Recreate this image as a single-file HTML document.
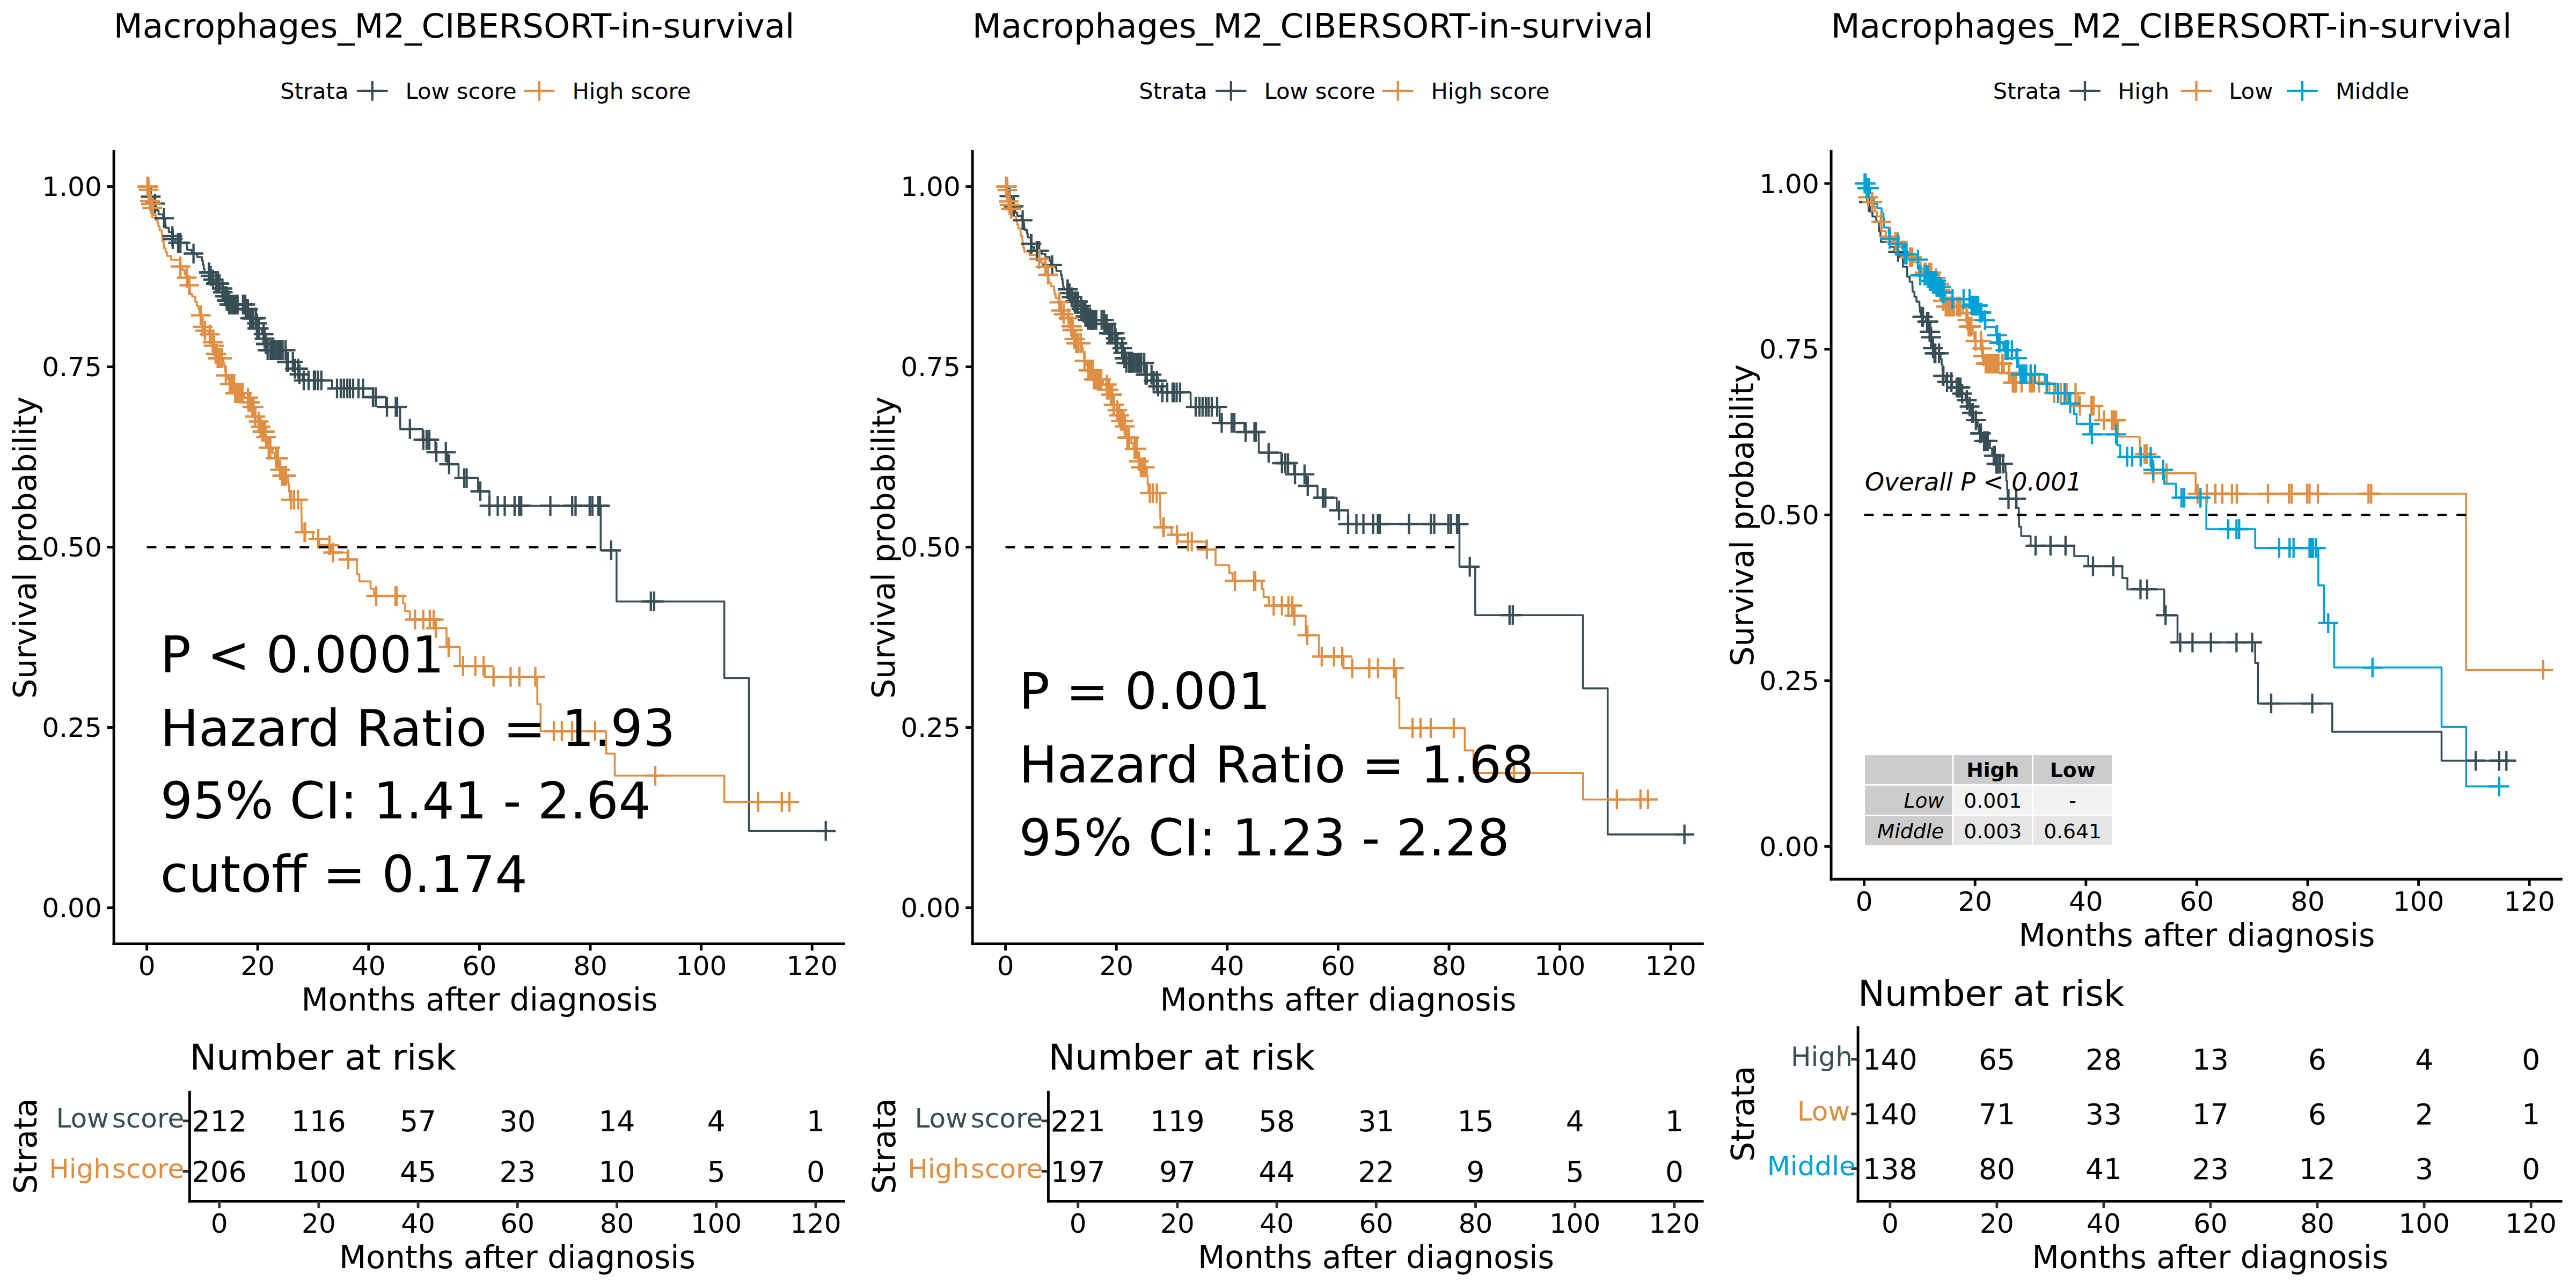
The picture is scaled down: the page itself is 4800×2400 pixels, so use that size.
<!DOCTYPE html>
<html lang="en"><head><meta charset="utf-8"><title>Macrophages_M2_CIBERSORT-in-survival</title>
<style>html,body{margin:0;padding:0;background:#fff;width:4800px;height:2400px;overflow:hidden;}svg{display:block;}text{font-family:'DejaVu Sans', 'Liberation Sans', sans-serif;}</style>
</head><body>
<svg width="4800" height="2400" viewBox="0 0 4800 2400">
<defs><g id="cm"><path d="M-18.4 0H18.4M0 -18.4V18.4" fill="none" stroke-width="4.3"/></g></defs>
<rect width="4800" height="2400" fill="#fff"/>
<text x="211.8" y="70.2" font-size="62.5" text-anchor="start" fill="#000">Macrophages_M2_CIBERSORT-in-survival</text>
<text x="522.2" y="183.9" font-size="41.67" text-anchor="start" fill="#000">Strata</text>
<line x1="665.0" y1="169.3" x2="722.6" y2="169.3" stroke="#374E55" stroke-width="3.56"/>
<use href="#cm" x="693.8" y="169.3" stroke="#374E55"/>
<text x="755.5" y="183.9" font-size="41.67" text-anchor="start" fill="#000">Low score</text>
<line x1="976.0" y1="169.3" x2="1033.6" y2="169.3" stroke="#DF8F44" stroke-width="3.56"/>
<use href="#cm" x="1004.8" y="169.3" stroke="#DF8F44"/>
<text x="1066.5" y="183.9" font-size="41.67" text-anchor="start" fill="#000">High score</text>
<path d="M273.6 347.6 L276.0 347.6 L276.0 353.4 L278.0 353.4 L278.0 360.0 L280.0 360.0 L280.0 366.5 L284.0 366.5 L284.0 373.0 L287.0 373.0 L287.0 379.4 L290.0 379.4 L290.0 386.0 L292.0 386.0 L292.0 392.0 L295.5 392.0 L295.5 399.5 L304.0 399.5 L304.0 406.5 L307.5 406.5 L307.5 412.5 L308.2 412.5 L308.2 419.0 L308.8 419.0 L308.8 424.5 L314.5 424.5 L314.5 432.5 L320.5 432.5 L320.5 440.0 L321.5 440.0 L321.5 445.5 L327.0 445.5 L327.0 452.5 L348.0 452.5 L348.0 459.0 L348.8 459.0 L348.8 465.5 L357.0 465.5 L357.0 472.5 L367.5 472.5 L367.5 479.0 L376.5 479.0 L376.5 486.0 L378.0 486.0 L378.0 493.0 L379.5 493.0 L379.5 500.0 L381.0 500.0 L381.0 507.5 L390.0 507.5 L390.0 514.0 L395.5 514.0 L395.5 521.0 L401.0 521.0 L401.0 528.5 L410.0 528.5 L410.0 537.5 L415.0 537.5 L415.0 544.5 L418.5 544.5 L418.5 552.0 L422.5 552.0 L422.5 560.0 L427.0 560.0 L427.0 567.5 L458.0 567.5 L458.0 576.0 L465.0 576.0 L465.0 584.5 L466.0 584.5 L466.0 593.0 L478.0 593.0 L478.0 602.5 L479.0 602.5 L479.0 612.0 L488.0 612.0 L488.0 622.5 L493.0 622.5 L493.0 631.0 L494.5 631.0 L494.5 641.0 L497.0 641.0 L497.0 652.5 L533.0 652.5 L533.0 663.5 L534.0 663.5 L534.0 674.5 L548.0 674.5 L548.0 687.0 L557.0 687.0 L557.0 697.5 L564.0 697.5 L564.0 708.8 L618.8 708.8 L618.8 723.8 L677.0 723.8 L677.0 740.0 L718.8 740.0 L718.8 758.2 L745.6 758.2 L745.6 778.5 L745.7 778.5 L745.7 799.5 L787.5 799.5 L787.5 819.5 L811.2 819.5 L811.2 842.5 L833.8 842.5 L833.8 865.0 L854.5 865.0 L854.5 890.8 L890.8 890.8 L890.8 915.5 L912.0 915.5 L912.0 942.5 L1119.3 942.5 L1119.3 1025.5 L1148.8 1025.5 L1148.8 1120.7 L1349.6 1120.7 L1349.6 1263.5 L1395.6 1263.5 L1395.6 1548.3 L1538.7 1548.3" fill="none" stroke="#374E55" stroke-width="3.56" stroke-linejoin="round"/>
<path d="M273.6 347.6 L276.5 347.6 L276.5 353.6 L278.0 353.6 L278.0 360.0 L278.5 360.0 L278.5 367.0 L279.0 367.0 L279.0 374.3 L280.5 374.3 L280.5 380.0 L282.5 380.0 L282.5 387.5 L284.0 387.5 L284.0 394.0 L284.5 394.0 L284.5 400.5 L290.5 400.5 L290.5 410.0 L293.5 410.0 L293.5 415.0 L295.0 415.0 L295.0 421.5 L297.5 421.5 L297.5 429.0 L301.5 429.0 L301.5 435.5 L302.0 435.5 L302.0 442.5 L303.0 442.5 L303.0 450.0 L305.0 450.0 L305.0 456.0 L305.5 456.0 L305.5 462.5 L308.5 462.5 L308.5 470.0 L311.0 470.0 L311.0 477.0 L318.5 477.0 L318.5 484.0 L335.0 484.0 L335.0 496.5 L340.0 496.5 L340.0 503.0 L344.0 503.0 L344.0 510.0 L346.0 510.0 L346.0 517.5 L350.5 517.5 L350.5 524.5 L351.5 524.5 L351.5 531.5 L353.6 531.5 L353.6 540.0 L354.2 540.0 L354.2 547.5 L358.0 547.5 L358.0 552.5 L364.0 552.5 L364.0 562.5 L367.0 562.5 L367.0 570.0 L370.0 570.0 L370.0 576.0 L371.5 576.0 L371.5 582.0 L372.5 582.0 L372.5 587.5 L375.0 587.5 L375.0 594.5 L376.0 594.5 L376.0 601.5 L377.0 601.5 L377.0 608.8 L380.5 608.8 L380.5 616.2 L389.0 616.2 L389.0 623.2 L394.0 623.2 L394.0 630.0 L395.5 630.0 L395.5 637.5 L397.5 637.5 L397.5 644.2 L399.5 644.2 L399.5 652.0 L401.0 652.0 L401.0 659.5 L404.5 659.5 L404.5 667.5 L416.0 667.5 L416.0 675.5 L418.0 675.5 L418.0 683.5 L419.5 683.5 L419.5 691.5 L420.5 691.5 L420.5 699.5 L425.0 699.5 L425.0 707.5 L427.0 707.5 L427.0 715.8 L437.0 715.8 L437.0 724.0 L438.0 724.0 L438.0 732.5 L455.0 732.5 L455.0 741.0 L462.5 741.0 L462.5 749.5 L469.0 749.5 L469.0 758.2 L473.0 758.2 L473.0 767.0 L475.0 767.0 L475.0 776.2 L481.0 776.2 L481.0 785.5 L485.0 785.5 L485.0 795.0 L487.0 795.0 L487.0 804.5 L494.0 804.5 L494.0 814.2 L498.0 814.2 L498.0 824.0 L500.0 824.0 L500.0 834.2 L508.0 834.2 L508.0 844.0 L512.0 844.0 L512.0 854.2 L518.0 854.2 L518.0 865.0 L520.0 865.0 L520.0 875.5 L524.0 875.5 L524.0 886.5 L537.0 886.5 L537.0 901.0 L538.5 901.0 L538.5 916.0 L540.0 916.0 L540.0 931.2 L561.5 931.2 L561.5 946.0 L561.7 946.0 L561.7 961.0 L562.0 961.0 L562.0 976.0 L562.5 976.0 L562.5 991.8 L583.0 991.8 L583.0 1004.2 L595.0 1004.2 L595.0 1016.2 L617.0 1016.2 L617.0 1029.5 L647.5 1029.5 L647.5 1042.5 L665.0 1042.5 L665.0 1070.0 L669.6 1070.0 L669.6 1083.4 L690.5 1083.4 L690.5 1097.0 L697.0 1097.0 L697.0 1110.6 L751.0 1110.6 L751.0 1124.2 L755.0 1124.2 L755.0 1139.0 L763.8 1139.0 L763.8 1154.5 L810.0 1154.5 L810.0 1170.3 L832.0 1170.3 L832.0 1205.7 L856.8 1205.7 L856.8 1241.1 L903.5 1241.1 L903.5 1261.2 L1001.2 1261.2 L1001.2 1312.0 L1007.3 1312.0 L1007.3 1362.5 L1129.5 1362.5 L1129.5 1404.2 L1145.5 1404.2 L1145.5 1445.3 L1349.6 1445.3 L1349.6 1494.4 L1470.8 1494.4" fill="none" stroke="#DF8F44" stroke-width="3.56" stroke-linejoin="round"/>
<g stroke="#374E55">
<use href="#cm" x="280.9" y="366.5"/>
<use href="#cm" x="288.8" y="379.4"/>
<use href="#cm" x="305.6" y="406.5"/>
<use href="#cm" x="321.2" y="440.0"/>
<use href="#cm" x="321.9" y="445.5"/>
<use href="#cm" x="331.9" y="452.5"/>
<use href="#cm" x="336.2" y="452.5"/>
<use href="#cm" x="360.6" y="472.5"/>
<use href="#cm" x="389.3" y="507.5"/>
<use href="#cm" x="389.4" y="507.5"/>
<use href="#cm" x="392.6" y="514.0"/>
<use href="#cm" x="396.9" y="521.0"/>
<use href="#cm" x="402.3" y="528.5"/>
<use href="#cm" x="402.8" y="528.5"/>
<use href="#cm" x="404.3" y="528.5"/>
<use href="#cm" x="404.4" y="528.5"/>
<use href="#cm" x="406.2" y="528.5"/>
<use href="#cm" x="407.1" y="528.5"/>
<use href="#cm" x="408.7" y="528.5"/>
<use href="#cm" x="414.5" y="537.5"/>
<use href="#cm" x="415.1" y="544.5"/>
<use href="#cm" x="419.3" y="552.0"/>
<use href="#cm" x="422.3" y="552.0"/>
<use href="#cm" x="422.6" y="560.0"/>
<use href="#cm" x="422.9" y="560.0"/>
<use href="#cm" x="423.3" y="560.0"/>
<use href="#cm" x="425.3" y="560.0"/>
<use href="#cm" x="426.0" y="560.0"/>
<use href="#cm" x="427.1" y="567.5"/>
<use href="#cm" x="431.3" y="567.5"/>
<use href="#cm" x="431.7" y="567.5"/>
<use href="#cm" x="433.1" y="567.5"/>
<use href="#cm" x="434.9" y="567.5"/>
<use href="#cm" x="435.7" y="567.5"/>
<use href="#cm" x="436.6" y="567.5"/>
<use href="#cm" x="439.7" y="567.5"/>
<use href="#cm" x="442.3" y="567.5"/>
<use href="#cm" x="442.6" y="567.5"/>
<use href="#cm" x="452.7" y="567.5"/>
<use href="#cm" x="457.0" y="567.5"/>
<use href="#cm" x="458.0" y="576.0"/>
<use href="#cm" x="458.5" y="576.0"/>
<use href="#cm" x="461.4" y="576.0"/>
<use href="#cm" x="461.9" y="576.0"/>
<use href="#cm" x="466.2" y="593.0"/>
<use href="#cm" x="469.9" y="593.0"/>
<use href="#cm" x="469.9" y="593.0"/>
<use href="#cm" x="470.0" y="593.0"/>
<use href="#cm" x="472.1" y="593.0"/>
<use href="#cm" x="476.9" y="593.0"/>
<use href="#cm" x="478.7" y="602.5"/>
<use href="#cm" x="479.5" y="612.0"/>
<use href="#cm" x="481.6" y="612.0"/>
<use href="#cm" x="482.0" y="612.0"/>
<use href="#cm" x="491.2" y="622.5"/>
<use href="#cm" x="493.0" y="631.0"/>
<use href="#cm" x="495.4" y="641.0"/>
<use href="#cm" x="495.4" y="641.0"/>
<use href="#cm" x="498.7" y="652.5"/>
<use href="#cm" x="503.8" y="652.5"/>
<use href="#cm" x="504.2" y="652.5"/>
<use href="#cm" x="504.5" y="652.5"/>
<use href="#cm" x="504.9" y="652.5"/>
<use href="#cm" x="507.2" y="652.5"/>
<use href="#cm" x="508.2" y="652.5"/>
<use href="#cm" x="508.7" y="652.5"/>
<use href="#cm" x="510.3" y="652.5"/>
<use href="#cm" x="511.9" y="652.5"/>
<use href="#cm" x="513.7" y="652.5"/>
<use href="#cm" x="517.7" y="652.5"/>
<use href="#cm" x="521.0" y="652.5"/>
<use href="#cm" x="521.5" y="652.5"/>
<use href="#cm" x="524.8" y="652.5"/>
<use href="#cm" x="526.1" y="652.5"/>
<use href="#cm" x="526.5" y="652.5"/>
<use href="#cm" x="532.1" y="652.5"/>
<use href="#cm" x="534.6" y="674.5"/>
<use href="#cm" x="536.2" y="674.5"/>
<use href="#cm" x="536.7" y="674.5"/>
<use href="#cm" x="545.7" y="674.5"/>
<use href="#cm" x="549.6" y="687.0"/>
<use href="#cm" x="555.6" y="687.0"/>
<use href="#cm" x="557.9" y="697.5"/>
<use href="#cm" x="566.0" y="708.8"/>
<use href="#cm" x="575.0" y="708.8"/>
<use href="#cm" x="585.0" y="708.8"/>
<use href="#cm" x="587.0" y="708.8"/>
<use href="#cm" x="592.5" y="708.8"/>
<use href="#cm" x="598.8" y="708.8"/>
<use href="#cm" x="628.0" y="723.8"/>
<use href="#cm" x="635.0" y="723.8"/>
<use href="#cm" x="640.8" y="723.8"/>
<use href="#cm" x="647.0" y="723.8"/>
<use href="#cm" x="651.9" y="723.8"/>
<use href="#cm" x="658.0" y="723.8"/>
<use href="#cm" x="668.0" y="723.8"/>
<use href="#cm" x="676.5" y="723.8"/>
<use href="#cm" x="695.0" y="740.0"/>
<use href="#cm" x="700.0" y="740.0"/>
<use href="#cm" x="721.0" y="758.2"/>
<use href="#cm" x="737.5" y="758.2"/>
<use href="#cm" x="740.0" y="758.2"/>
<use href="#cm" x="763.8" y="799.5"/>
<use href="#cm" x="788.8" y="819.5"/>
<use href="#cm" x="795.0" y="819.5"/>
<use href="#cm" x="800.0" y="819.5"/>
<use href="#cm" x="813.0" y="842.5"/>
<use href="#cm" x="830.8" y="842.5"/>
<use href="#cm" x="836.8" y="865.0"/>
<use href="#cm" x="865.0" y="890.8"/>
<use href="#cm" x="869.5" y="890.8"/>
<use href="#cm" x="895.0" y="915.5"/>
<use href="#cm" x="912.0" y="942.5"/>
<use href="#cm" x="927.5" y="942.5"/>
<use href="#cm" x="940.5" y="942.5"/>
<use href="#cm" x="958.8" y="942.5"/>
<use href="#cm" x="967.5" y="942.5"/>
<use href="#cm" x="971.2" y="942.5"/>
<use href="#cm" x="1025.5" y="942.5"/>
<use href="#cm" x="1066.2" y="942.5"/>
<use href="#cm" x="1072.5" y="942.5"/>
<use href="#cm" x="1098.8" y="942.5"/>
<use href="#cm" x="1103.8" y="942.5"/>
<use href="#cm" x="1115.0" y="942.5"/>
<use href="#cm" x="1118.0" y="942.5"/>
<use href="#cm" x="1138.7" y="1025.5"/>
<use href="#cm" x="1212.8" y="1120.7"/>
<use href="#cm" x="1218.9" y="1120.7"/>
<use href="#cm" x="1538.7" y="1548.3"/>
</g>
<g stroke="#DF8F44">
<use href="#cm" x="274.6" y="347.6"/>
<use href="#cm" x="275.5" y="347.6"/>
<use href="#cm" x="276.3" y="347.6"/>
<use href="#cm" x="277.0" y="353.6"/>
<use href="#cm" x="279.5" y="374.3"/>
<use href="#cm" x="281.2" y="380.0"/>
<use href="#cm" x="283.8" y="387.5"/>
<use href="#cm" x="336.2" y="496.5"/>
<use href="#cm" x="348.0" y="517.5"/>
<use href="#cm" x="352.8" y="531.5"/>
<use href="#cm" x="374.0" y="587.5"/>
<use href="#cm" x="377.5" y="608.8"/>
<use href="#cm" x="382.0" y="616.2"/>
<use href="#cm" x="391.0" y="623.2"/>
<use href="#cm" x="396.2" y="637.5"/>
<use href="#cm" x="397.0" y="637.5"/>
<use href="#cm" x="398.0" y="644.2"/>
<use href="#cm" x="398.9" y="644.2"/>
<use href="#cm" x="401.8" y="659.5"/>
<use href="#cm" x="403.5" y="659.5"/>
<use href="#cm" x="405.5" y="667.5"/>
<use href="#cm" x="406.2" y="667.5"/>
<use href="#cm" x="409.1" y="667.5"/>
<use href="#cm" x="409.3" y="667.5"/>
<use href="#cm" x="413.8" y="667.5"/>
<use href="#cm" x="420.8" y="699.5"/>
<use href="#cm" x="428.0" y="715.8"/>
<use href="#cm" x="430.2" y="715.8"/>
<use href="#cm" x="433.9" y="715.8"/>
<use href="#cm" x="436.2" y="715.8"/>
<use href="#cm" x="438.2" y="732.5"/>
<use href="#cm" x="438.8" y="732.5"/>
<use href="#cm" x="442.2" y="732.5"/>
<use href="#cm" x="443.4" y="732.5"/>
<use href="#cm" x="445.2" y="732.5"/>
<use href="#cm" x="446.0" y="732.5"/>
<use href="#cm" x="449.5" y="732.5"/>
<use href="#cm" x="451.8" y="732.5"/>
<use href="#cm" x="462.2" y="741.0"/>
<use href="#cm" x="462.8" y="749.5"/>
<use href="#cm" x="463.8" y="749.5"/>
<use href="#cm" x="466.0" y="749.5"/>
<use href="#cm" x="470.0" y="758.2"/>
<use href="#cm" x="472.5" y="758.2"/>
<use href="#cm" x="475.0" y="776.2"/>
<use href="#cm" x="475.8" y="776.2"/>
<use href="#cm" x="482.0" y="785.5"/>
<use href="#cm" x="485.4" y="795.0"/>
<use href="#cm" x="488.8" y="804.5"/>
<use href="#cm" x="490.3" y="804.5"/>
<use href="#cm" x="491.8" y="804.5"/>
<use href="#cm" x="493.5" y="804.5"/>
<use href="#cm" x="495.8" y="814.2"/>
<use href="#cm" x="500.7" y="834.2"/>
<use href="#cm" x="502.1" y="834.2"/>
<use href="#cm" x="502.5" y="834.2"/>
<use href="#cm" x="503.2" y="834.2"/>
<use href="#cm" x="503.8" y="834.2"/>
<use href="#cm" x="514.2" y="854.2"/>
<use href="#cm" x="517.8" y="854.2"/>
<use href="#cm" x="522.0" y="875.5"/>
<use href="#cm" x="525.8" y="886.5"/>
<use href="#cm" x="529.5" y="886.5"/>
<use href="#cm" x="532.0" y="886.5"/>
<use href="#cm" x="533.0" y="886.5"/>
<use href="#cm" x="542.5" y="931.2"/>
<use href="#cm" x="548.0" y="931.2"/>
<use href="#cm" x="555.5" y="931.2"/>
<use href="#cm" x="567.5" y="991.8"/>
<use href="#cm" x="568.5" y="991.8"/>
<use href="#cm" x="593.0" y="1004.2"/>
<use href="#cm" x="613.9" y="1016.2"/>
<use href="#cm" x="620.7" y="1029.5"/>
<use href="#cm" x="648.9" y="1042.5"/>
<use href="#cm" x="701.0" y="1110.6"/>
<use href="#cm" x="737.0" y="1110.6"/>
<use href="#cm" x="739.0" y="1110.6"/>
<use href="#cm" x="773.4" y="1154.5"/>
<use href="#cm" x="788.7" y="1154.5"/>
<use href="#cm" x="800.8" y="1154.5"/>
<use href="#cm" x="808.1" y="1154.5"/>
<use href="#cm" x="812.0" y="1170.3"/>
<use href="#cm" x="835.9" y="1205.7"/>
<use href="#cm" x="862.9" y="1241.1"/>
<use href="#cm" x="885.7" y="1241.1"/>
<use href="#cm" x="901.1" y="1241.1"/>
<use href="#cm" x="919.7" y="1261.2"/>
<use href="#cm" x="951.4" y="1261.2"/>
<use href="#cm" x="967.7" y="1261.2"/>
<use href="#cm" x="997.5" y="1261.2"/>
<use href="#cm" x="1032.0" y="1362.5"/>
<use href="#cm" x="1046.9" y="1362.5"/>
<use href="#cm" x="1066.0" y="1362.5"/>
<use href="#cm" x="1108.9" y="1362.5"/>
<use href="#cm" x="1221.0" y="1445.3"/>
<use href="#cm" x="1412.8" y="1494.4"/>
<use href="#cm" x="1456.8" y="1494.4"/>
<use href="#cm" x="1470.8" y="1494.4"/>
</g>
<line x1="273.6" y1="1019.5" x2="1119.3" y2="1019.5" stroke="#000" stroke-width="4.45" stroke-dasharray="17.8 17.8"/>
<text x="298.8" y="1252.5" font-size="94.85" text-anchor="start" fill="#000">P &lt; 0.0001</text>
<text x="298.8" y="1389.8" font-size="94.85" text-anchor="start" fill="#000">Hazard Ratio = 1.93</text>
<text x="298.8" y="1524.9" font-size="94.85" text-anchor="start" fill="#000">95% CI: 1.41 - 2.64</text>
<text x="298.8" y="1662.2" font-size="94.85" text-anchor="start" fill="#000">cutoff = 0.174</text>
<line x1="212.1" y1="279.8" x2="212.1" y2="1761.0" stroke="#000" stroke-width="4.9"/>
<line x1="209.7" y1="1758.6" x2="1574.8" y2="1758.6" stroke="#000" stroke-width="4.9"/>
<line x1="199.4" y1="1691.5" x2="212.1" y2="1691.5" stroke="#000" stroke-width="4.9"/>
<text x="189.7" y="1709.1" font-size="50" text-anchor="end" fill="#000">0.00</text>
<line x1="199.4" y1="1355.5" x2="212.1" y2="1355.5" stroke="#000" stroke-width="4.9"/>
<text x="189.7" y="1373.1" font-size="50" text-anchor="end" fill="#000">0.25</text>
<line x1="199.4" y1="1019.5" x2="212.1" y2="1019.5" stroke="#000" stroke-width="4.9"/>
<text x="189.7" y="1037.1" font-size="50" text-anchor="end" fill="#000">0.50</text>
<line x1="199.4" y1="683.6" x2="212.1" y2="683.6" stroke="#000" stroke-width="4.9"/>
<text x="189.7" y="701.2" font-size="50" text-anchor="end" fill="#000">0.75</text>
<line x1="199.4" y1="347.6" x2="212.1" y2="347.6" stroke="#000" stroke-width="4.9"/>
<text x="189.7" y="365.2" font-size="50" text-anchor="end" fill="#000">1.00</text>
<line x1="273.6" y1="1758.6" x2="273.6" y2="1771.3" stroke="#000" stroke-width="4.9"/>
<text x="273.6" y="1817.2" font-size="50" text-anchor="middle" fill="#000">0</text>
<line x1="480.2" y1="1758.6" x2="480.2" y2="1771.3" stroke="#000" stroke-width="4.9"/>
<text x="480.2" y="1817.2" font-size="50" text-anchor="middle" fill="#000">20</text>
<line x1="686.8" y1="1758.6" x2="686.8" y2="1771.3" stroke="#000" stroke-width="4.9"/>
<text x="686.8" y="1817.2" font-size="50" text-anchor="middle" fill="#000">40</text>
<line x1="893.4" y1="1758.6" x2="893.4" y2="1771.3" stroke="#000" stroke-width="4.9"/>
<text x="893.4" y="1817.2" font-size="50" text-anchor="middle" fill="#000">60</text>
<line x1="1100.0" y1="1758.6" x2="1100.0" y2="1771.3" stroke="#000" stroke-width="4.9"/>
<text x="1100.0" y="1817.2" font-size="50" text-anchor="middle" fill="#000">80</text>
<line x1="1306.6" y1="1758.6" x2="1306.6" y2="1771.3" stroke="#000" stroke-width="4.9"/>
<text x="1306.6" y="1817.2" font-size="50" text-anchor="middle" fill="#000">100</text>
<line x1="1513.2" y1="1758.6" x2="1513.2" y2="1771.3" stroke="#000" stroke-width="4.9"/>
<text x="1513.2" y="1817.2" font-size="50" text-anchor="middle" fill="#000">120</text>
<text x="893.4" y="1883.0" font-size="58.33" text-anchor="middle" fill="#000">Months after diagnosis</text>
<text transform="translate(67.1 1020.3) rotate(-90)" font-size="58.1" text-anchor="middle">Survival probability</text>
<text x="1811.8" y="70.2" font-size="62.5" text-anchor="start" fill="#000">Macrophages_M2_CIBERSORT-in-survival</text>
<text x="2122.2" y="183.9" font-size="41.67" text-anchor="start" fill="#000">Strata</text>
<line x1="2265.0" y1="169.3" x2="2322.6" y2="169.3" stroke="#374E55" stroke-width="3.56"/>
<use href="#cm" x="2293.8" y="169.3" stroke="#374E55"/>
<text x="2355.5" y="183.9" font-size="41.67" text-anchor="start" fill="#000">Low score</text>
<line x1="2576.0" y1="169.3" x2="2633.6" y2="169.3" stroke="#DF8F44" stroke-width="3.56"/>
<use href="#cm" x="2604.8" y="169.3" stroke="#DF8F44"/>
<text x="2666.5" y="183.9" font-size="41.67" text-anchor="start" fill="#000">High score</text>
<path d="M1873.6 347.6 L1876.0 347.6 L1876.0 353.2 L1878.5 353.2 L1878.5 359.3 L1880.0 359.3 L1880.0 365.4 L1884.0 365.4 L1884.0 371.5 L1886.0 371.5 L1886.0 378.0 L1887.0 378.0 L1887.0 384.5 L1890.0 384.5 L1890.0 390.5 L1892.0 390.5 L1892.0 396.5 L1895.5 396.5 L1895.5 402.5 L1904.0 402.5 L1904.0 410.3 L1907.5 410.3 L1907.5 416.5 L1908.2 416.5 L1908.2 422.0 L1908.8 422.0 L1908.8 428.0 L1913.5 428.0 L1913.5 435.0 L1915.0 435.0 L1915.0 442.5 L1920.5 442.5 L1920.5 448.5 L1921.0 448.5 L1921.0 454.3 L1922.0 454.3 L1922.0 460.0 L1927.0 460.0 L1927.0 467.5 L1941.0 467.5 L1941.0 473.0 L1948.0 473.0 L1948.0 479.0 L1956.0 479.0 L1956.0 486.5 L1958.0 486.5 L1958.0 493.8 L1967.5 493.8 L1967.5 499.5 L1968.5 499.5 L1968.5 505.0 L1977.0 505.0 L1977.0 512.5 L1978.5 512.5 L1978.5 520.0 L1980.0 520.0 L1980.0 527.5 L1981.0 527.5 L1981.0 533.5 L1982.0 533.5 L1982.0 539.2 L1990.0 539.2 L1990.0 546.2 L1995.5 546.2 L1995.5 553.8 L2001.0 553.8 L2001.0 562.0 L2010.0 562.0 L2010.0 570.0 L2015.0 570.0 L2015.0 575.5 L2018.5 575.5 L2018.5 582.5 L2022.5 582.5 L2022.5 590.0 L2027.0 590.0 L2027.0 596.2 L2058.0 596.2 L2058.0 603.8 L2065.0 603.8 L2065.0 612.5 L2066.0 612.5 L2066.0 621.2 L2078.0 621.2 L2078.0 630.5 L2079.0 630.5 L2079.0 639.5 L2088.0 639.5 L2088.0 648.8 L2093.0 648.8 L2093.0 657.5 L2094.5 657.5 L2094.5 667.5 L2097.0 667.5 L2097.0 676.2 L2133.0 676.2 L2133.0 687.0 L2134.0 687.0 L2134.0 698.0 L2148.0 698.0 L2148.0 709.5 L2157.0 709.5 L2157.0 720.0 L2164.0 720.0 L2164.0 731.2 L2218.5 731.2 L2218.5 744.8 L2218.8 744.8 L2218.8 758.2 L2272.5 758.2 L2272.5 773.0 L2272.6 773.0 L2272.6 788.2 L2318.8 788.2 L2318.8 805.0 L2345.5 805.0 L2345.5 824.0 L2345.6 824.0 L2345.6 843.5 L2387.5 843.5 L2387.5 863.0 L2411.2 863.0 L2411.2 883.8 L2434.5 883.8 L2434.5 905.5 L2455.0 905.5 L2455.0 927.5 L2490.8 927.5 L2490.8 951.2 L2512.0 951.2 L2512.0 976.5 L2719.5 976.5 L2719.5 1056.0 L2748.9 1056.0 L2748.9 1146.2 L2949.6 1146.2 L2949.6 1282.6 L2995.7 1282.6 L2995.7 1554.9 L3138.7 1554.9" fill="none" stroke="#374E55" stroke-width="3.56" stroke-linejoin="round"/>
<path d="M1873.6 347.6 L1876.5 347.6 L1876.5 354.1 L1878.0 354.1 L1878.0 361.0 L1878.5 361.0 L1878.5 368.0 L1879.0 368.0 L1879.0 375.3 L1880.5 375.3 L1880.5 382.0 L1882.5 382.0 L1882.5 389.2 L1884.5 389.2 L1884.5 396.5 L1888.0 396.5 L1888.0 403.5 L1893.5 403.5 L1893.5 411.0 L1895.0 411.0 L1895.0 418.0 L1897.5 418.0 L1897.5 425.5 L1901.5 425.5 L1901.5 433.0 L1902.0 433.0 L1902.0 440.0 L1905.0 440.0 L1905.0 447.5 L1905.5 447.5 L1905.5 455.0 L1907.0 455.0 L1907.0 462.0 L1908.5 462.0 L1908.5 468.8 L1918.5 468.8 L1918.5 475.5 L1935.0 475.5 L1935.0 482.5 L1940.0 482.5 L1940.0 489.5 L1946.0 489.5 L1946.0 496.8 L1950.5 496.8 L1950.5 504.0 L1951.5 504.0 L1951.5 511.8 L1953.6 511.8 L1953.6 519.5 L1954.2 519.5 L1954.2 527.0 L1958.0 527.0 L1958.0 533.5 L1964.0 533.5 L1964.0 540.5 L1965.0 540.5 L1965.0 547.5 L1967.0 547.5 L1967.0 555.5 L1972.5 555.5 L1972.5 563.4 L1975.0 563.4 L1975.0 571.0 L1977.0 571.0 L1977.0 578.5 L1980.5 578.5 L1980.5 585.5 L1989.0 585.5 L1989.0 593.0 L1994.0 593.0 L1994.0 600.5 L1995.5 600.5 L1995.5 608.2 L1997.5 608.2 L1997.5 615.0 L1999.5 615.0 L1999.5 623.5 L2001.0 623.5 L2001.0 631.8 L2004.5 631.8 L2004.5 639.5 L2016.0 639.5 L2016.0 648.0 L2018.0 648.0 L2018.0 656.0 L2019.5 656.0 L2019.5 664.0 L2020.5 664.0 L2020.5 672.5 L2025.0 672.5 L2025.0 681.0 L2027.0 681.0 L2027.0 690.0 L2037.0 690.0 L2037.0 698.5 L2038.0 698.5 L2038.0 707.0 L2055.0 707.0 L2055.0 716.5 L2062.5 716.5 L2062.5 726.2 L2069.0 726.2 L2069.0 735.5 L2073.0 735.5 L2073.0 745.0 L2075.0 745.0 L2075.0 754.5 L2081.0 754.5 L2081.0 764.2 L2085.0 764.2 L2085.0 774.0 L2087.0 774.0 L2087.0 784.2 L2094.0 784.2 L2094.0 794.5 L2098.0 794.5 L2098.0 805.0 L2100.0 805.0 L2100.0 815.5 L2108.0 815.5 L2108.0 826.0 L2112.0 826.0 L2112.0 836.5 L2118.0 836.5 L2118.0 848.0 L2120.0 848.0 L2120.0 859.5 L2124.0 859.5 L2124.0 870.8 L2137.0 870.8 L2137.0 886.5 L2138.5 886.5 L2138.5 902.5 L2140.0 902.5 L2140.0 918.8 L2161.5 918.8 L2161.5 934.5 L2161.7 934.5 L2161.7 950.5 L2162.0 950.5 L2162.0 966.5 L2162.5 966.5 L2162.5 982.5 L2183.0 982.5 L2183.0 996.5 L2195.0 996.5 L2195.0 1009.2 L2247.5 1009.2 L2247.5 1023.8 L2265.0 1023.8 L2265.0 1038.5 L2265.1 1038.5 L2265.1 1053.0 L2290.5 1053.0 L2290.5 1067.5 L2296.8 1067.5 L2296.8 1082.5 L2351.2 1082.5 L2351.2 1097.5 L2354.5 1097.5 L2354.5 1112.5 L2364.2 1112.5 L2364.2 1128.5 L2410.0 1128.5 L2410.0 1147.3 L2433.0 1147.3 L2433.0 1183.7 L2457.6 1183.7 L2457.6 1223.4 L2503.5 1223.4 L2503.5 1245.1 L2601.4 1245.1 L2601.4 1301.0 L2607.5 1301.0 L2607.5 1356.5 L2729.4 1356.5 L2729.4 1398.4 L2745.6 1398.4 L2745.6 1440.2 L2949.6 1440.2 L2949.6 1489.7 L3070.8 1489.7" fill="none" stroke="#DF8F44" stroke-width="3.56" stroke-linejoin="round"/>
<g stroke="#374E55">
<use href="#cm" x="1880.9" y="365.4"/>
<use href="#cm" x="1888.8" y="384.5"/>
<use href="#cm" x="1905.6" y="410.3"/>
<use href="#cm" x="1921.2" y="454.3"/>
<use href="#cm" x="1921.9" y="454.3"/>
<use href="#cm" x="1931.9" y="467.5"/>
<use href="#cm" x="1936.2" y="467.5"/>
<use href="#cm" x="1960.6" y="493.8"/>
<use href="#cm" x="1989.3" y="539.2"/>
<use href="#cm" x="1989.4" y="539.2"/>
<use href="#cm" x="1992.6" y="546.2"/>
<use href="#cm" x="1996.9" y="553.8"/>
<use href="#cm" x="2002.3" y="562.0"/>
<use href="#cm" x="2002.8" y="562.0"/>
<use href="#cm" x="2004.3" y="562.0"/>
<use href="#cm" x="2004.4" y="562.0"/>
<use href="#cm" x="2006.2" y="562.0"/>
<use href="#cm" x="2007.1" y="562.0"/>
<use href="#cm" x="2008.7" y="562.0"/>
<use href="#cm" x="2014.5" y="570.0"/>
<use href="#cm" x="2015.1" y="575.5"/>
<use href="#cm" x="2019.3" y="582.5"/>
<use href="#cm" x="2022.3" y="582.5"/>
<use href="#cm" x="2022.6" y="590.0"/>
<use href="#cm" x="2022.9" y="590.0"/>
<use href="#cm" x="2023.3" y="590.0"/>
<use href="#cm" x="2025.3" y="590.0"/>
<use href="#cm" x="2026.0" y="590.0"/>
<use href="#cm" x="2027.1" y="596.2"/>
<use href="#cm" x="2031.3" y="596.2"/>
<use href="#cm" x="2031.7" y="596.2"/>
<use href="#cm" x="2033.1" y="596.2"/>
<use href="#cm" x="2034.9" y="596.2"/>
<use href="#cm" x="2035.7" y="596.2"/>
<use href="#cm" x="2036.6" y="596.2"/>
<use href="#cm" x="2039.7" y="596.2"/>
<use href="#cm" x="2042.3" y="596.2"/>
<use href="#cm" x="2042.6" y="596.2"/>
<use href="#cm" x="2052.7" y="596.2"/>
<use href="#cm" x="2057.0" y="596.2"/>
<use href="#cm" x="2058.0" y="603.8"/>
<use href="#cm" x="2058.5" y="603.8"/>
<use href="#cm" x="2061.4" y="603.8"/>
<use href="#cm" x="2061.9" y="603.8"/>
<use href="#cm" x="2066.2" y="621.2"/>
<use href="#cm" x="2069.9" y="621.2"/>
<use href="#cm" x="2069.9" y="621.2"/>
<use href="#cm" x="2070.0" y="621.2"/>
<use href="#cm" x="2072.1" y="621.2"/>
<use href="#cm" x="2076.9" y="621.2"/>
<use href="#cm" x="2078.7" y="630.5"/>
<use href="#cm" x="2079.5" y="639.5"/>
<use href="#cm" x="2081.6" y="639.5"/>
<use href="#cm" x="2082.0" y="639.5"/>
<use href="#cm" x="2091.2" y="648.8"/>
<use href="#cm" x="2093.0" y="657.5"/>
<use href="#cm" x="2095.4" y="667.5"/>
<use href="#cm" x="2095.4" y="667.5"/>
<use href="#cm" x="2098.7" y="676.2"/>
<use href="#cm" x="2103.8" y="676.2"/>
<use href="#cm" x="2104.2" y="676.2"/>
<use href="#cm" x="2104.5" y="676.2"/>
<use href="#cm" x="2104.9" y="676.2"/>
<use href="#cm" x="2107.2" y="676.2"/>
<use href="#cm" x="2108.2" y="676.2"/>
<use href="#cm" x="2108.7" y="676.2"/>
<use href="#cm" x="2110.3" y="676.2"/>
<use href="#cm" x="2111.9" y="676.2"/>
<use href="#cm" x="2113.7" y="676.2"/>
<use href="#cm" x="2117.7" y="676.2"/>
<use href="#cm" x="2121.0" y="676.2"/>
<use href="#cm" x="2121.5" y="676.2"/>
<use href="#cm" x="2124.8" y="676.2"/>
<use href="#cm" x="2126.1" y="676.2"/>
<use href="#cm" x="2126.5" y="676.2"/>
<use href="#cm" x="2132.1" y="676.2"/>
<use href="#cm" x="2134.6" y="698.0"/>
<use href="#cm" x="2136.2" y="698.0"/>
<use href="#cm" x="2136.7" y="698.0"/>
<use href="#cm" x="2145.7" y="698.0"/>
<use href="#cm" x="2149.6" y="709.5"/>
<use href="#cm" x="2155.6" y="709.5"/>
<use href="#cm" x="2157.9" y="720.0"/>
<use href="#cm" x="2166.0" y="731.2"/>
<use href="#cm" x="2175.0" y="731.2"/>
<use href="#cm" x="2185.0" y="731.2"/>
<use href="#cm" x="2187.0" y="731.2"/>
<use href="#cm" x="2192.5" y="731.2"/>
<use href="#cm" x="2198.8" y="731.2"/>
<use href="#cm" x="2228.0" y="758.2"/>
<use href="#cm" x="2235.0" y="758.2"/>
<use href="#cm" x="2240.8" y="758.2"/>
<use href="#cm" x="2247.0" y="758.2"/>
<use href="#cm" x="2251.9" y="758.2"/>
<use href="#cm" x="2258.0" y="758.2"/>
<use href="#cm" x="2268.0" y="758.2"/>
<use href="#cm" x="2276.5" y="788.2"/>
<use href="#cm" x="2295.0" y="788.2"/>
<use href="#cm" x="2300.0" y="788.2"/>
<use href="#cm" x="2321.0" y="805.0"/>
<use href="#cm" x="2337.5" y="805.0"/>
<use href="#cm" x="2340.0" y="805.0"/>
<use href="#cm" x="2363.8" y="843.5"/>
<use href="#cm" x="2388.8" y="863.0"/>
<use href="#cm" x="2395.0" y="863.0"/>
<use href="#cm" x="2400.0" y="863.0"/>
<use href="#cm" x="2413.0" y="883.8"/>
<use href="#cm" x="2430.8" y="883.8"/>
<use href="#cm" x="2436.8" y="905.5"/>
<use href="#cm" x="2465.0" y="927.5"/>
<use href="#cm" x="2469.5" y="927.5"/>
<use href="#cm" x="2495.0" y="951.2"/>
<use href="#cm" x="2512.0" y="976.5"/>
<use href="#cm" x="2527.5" y="976.5"/>
<use href="#cm" x="2540.5" y="976.5"/>
<use href="#cm" x="2558.8" y="976.5"/>
<use href="#cm" x="2567.5" y="976.5"/>
<use href="#cm" x="2571.2" y="976.5"/>
<use href="#cm" x="2625.5" y="976.5"/>
<use href="#cm" x="2666.2" y="976.5"/>
<use href="#cm" x="2672.5" y="976.5"/>
<use href="#cm" x="2698.8" y="976.5"/>
<use href="#cm" x="2703.8" y="976.5"/>
<use href="#cm" x="2715.0" y="976.5"/>
<use href="#cm" x="2718.0" y="976.5"/>
<use href="#cm" x="2738.7" y="1056.0"/>
<use href="#cm" x="2812.8" y="1146.2"/>
<use href="#cm" x="2818.9" y="1146.2"/>
<use href="#cm" x="3138.7" y="1554.9"/>
</g>
<g stroke="#DF8F44">
<use href="#cm" x="1874.6" y="347.6"/>
<use href="#cm" x="1875.5" y="347.6"/>
<use href="#cm" x="1876.3" y="347.6"/>
<use href="#cm" x="1877.0" y="354.1"/>
<use href="#cm" x="1879.5" y="375.3"/>
<use href="#cm" x="1881.2" y="382.0"/>
<use href="#cm" x="1883.8" y="389.2"/>
<use href="#cm" x="1936.2" y="482.5"/>
<use href="#cm" x="1948.0" y="496.8"/>
<use href="#cm" x="1952.8" y="511.8"/>
<use href="#cm" x="1974.0" y="563.4"/>
<use href="#cm" x="1977.5" y="578.5"/>
<use href="#cm" x="1982.0" y="585.5"/>
<use href="#cm" x="1991.0" y="593.0"/>
<use href="#cm" x="1996.2" y="608.2"/>
<use href="#cm" x="1997.0" y="608.2"/>
<use href="#cm" x="1998.0" y="615.0"/>
<use href="#cm" x="1998.9" y="615.0"/>
<use href="#cm" x="2001.8" y="631.8"/>
<use href="#cm" x="2003.5" y="631.8"/>
<use href="#cm" x="2005.5" y="639.5"/>
<use href="#cm" x="2006.2" y="639.5"/>
<use href="#cm" x="2009.1" y="639.5"/>
<use href="#cm" x="2009.3" y="639.5"/>
<use href="#cm" x="2013.8" y="639.5"/>
<use href="#cm" x="2020.8" y="672.5"/>
<use href="#cm" x="2028.0" y="690.0"/>
<use href="#cm" x="2030.2" y="690.0"/>
<use href="#cm" x="2033.9" y="690.0"/>
<use href="#cm" x="2036.2" y="690.0"/>
<use href="#cm" x="2038.2" y="707.0"/>
<use href="#cm" x="2038.8" y="707.0"/>
<use href="#cm" x="2042.2" y="707.0"/>
<use href="#cm" x="2043.4" y="707.0"/>
<use href="#cm" x="2045.2" y="707.0"/>
<use href="#cm" x="2046.0" y="707.0"/>
<use href="#cm" x="2049.5" y="707.0"/>
<use href="#cm" x="2051.8" y="707.0"/>
<use href="#cm" x="2062.2" y="716.5"/>
<use href="#cm" x="2062.8" y="726.2"/>
<use href="#cm" x="2063.8" y="726.2"/>
<use href="#cm" x="2066.0" y="726.2"/>
<use href="#cm" x="2070.0" y="735.5"/>
<use href="#cm" x="2072.5" y="735.5"/>
<use href="#cm" x="2075.0" y="754.5"/>
<use href="#cm" x="2075.8" y="754.5"/>
<use href="#cm" x="2082.0" y="764.2"/>
<use href="#cm" x="2085.4" y="774.0"/>
<use href="#cm" x="2088.8" y="784.2"/>
<use href="#cm" x="2090.3" y="784.2"/>
<use href="#cm" x="2091.8" y="784.2"/>
<use href="#cm" x="2093.5" y="784.2"/>
<use href="#cm" x="2095.8" y="794.5"/>
<use href="#cm" x="2100.7" y="815.5"/>
<use href="#cm" x="2102.1" y="815.5"/>
<use href="#cm" x="2102.5" y="815.5"/>
<use href="#cm" x="2103.2" y="815.5"/>
<use href="#cm" x="2103.8" y="815.5"/>
<use href="#cm" x="2114.2" y="836.5"/>
<use href="#cm" x="2117.8" y="836.5"/>
<use href="#cm" x="2122.0" y="859.5"/>
<use href="#cm" x="2125.8" y="870.8"/>
<use href="#cm" x="2129.5" y="870.8"/>
<use href="#cm" x="2132.0" y="870.8"/>
<use href="#cm" x="2133.0" y="870.8"/>
<use href="#cm" x="2142.5" y="918.8"/>
<use href="#cm" x="2148.0" y="918.8"/>
<use href="#cm" x="2155.5" y="918.8"/>
<use href="#cm" x="2167.5" y="982.5"/>
<use href="#cm" x="2168.5" y="982.5"/>
<use href="#cm" x="2193.0" y="996.5"/>
<use href="#cm" x="2213.9" y="1009.2"/>
<use href="#cm" x="2220.7" y="1009.2"/>
<use href="#cm" x="2248.9" y="1023.8"/>
<use href="#cm" x="2301.0" y="1082.5"/>
<use href="#cm" x="2337.0" y="1082.5"/>
<use href="#cm" x="2339.0" y="1082.5"/>
<use href="#cm" x="2373.4" y="1128.5"/>
<use href="#cm" x="2388.7" y="1128.5"/>
<use href="#cm" x="2400.8" y="1128.5"/>
<use href="#cm" x="2408.1" y="1128.5"/>
<use href="#cm" x="2412.0" y="1147.3"/>
<use href="#cm" x="2435.9" y="1183.7"/>
<use href="#cm" x="2462.9" y="1223.4"/>
<use href="#cm" x="2485.7" y="1223.4"/>
<use href="#cm" x="2501.1" y="1223.4"/>
<use href="#cm" x="2519.7" y="1245.1"/>
<use href="#cm" x="2551.4" y="1245.1"/>
<use href="#cm" x="2567.7" y="1245.1"/>
<use href="#cm" x="2597.5" y="1245.1"/>
<use href="#cm" x="2632.0" y="1356.5"/>
<use href="#cm" x="2646.9" y="1356.5"/>
<use href="#cm" x="2666.0" y="1356.5"/>
<use href="#cm" x="2708.9" y="1356.5"/>
<use href="#cm" x="2821.0" y="1440.2"/>
<use href="#cm" x="3012.8" y="1489.7"/>
<use href="#cm" x="3056.8" y="1489.7"/>
<use href="#cm" x="3070.8" y="1489.7"/>
</g>
<line x1="1873.6" y1="1019.5" x2="2719.5" y2="1019.5" stroke="#000" stroke-width="4.45" stroke-dasharray="17.8 17.8"/>
<text x="1898.8" y="1321.0" font-size="94.85" text-anchor="start" fill="#000">P = 0.001</text>
<text x="1898.8" y="1458.0" font-size="94.85" text-anchor="start" fill="#000">Hazard Ratio = 1.68</text>
<text x="1898.8" y="1593.7" font-size="94.85" text-anchor="start" fill="#000">95% CI: 1.23 - 2.28</text>
<line x1="1812.1" y1="279.8" x2="1812.1" y2="1761.0" stroke="#000" stroke-width="4.9"/>
<line x1="1809.6" y1="1758.6" x2="3174.8" y2="1758.6" stroke="#000" stroke-width="4.9"/>
<line x1="1799.4" y1="1691.5" x2="1812.1" y2="1691.5" stroke="#000" stroke-width="4.9"/>
<text x="1789.7" y="1709.1" font-size="50" text-anchor="end" fill="#000">0.00</text>
<line x1="1799.4" y1="1355.5" x2="1812.1" y2="1355.5" stroke="#000" stroke-width="4.9"/>
<text x="1789.7" y="1373.1" font-size="50" text-anchor="end" fill="#000">0.25</text>
<line x1="1799.4" y1="1019.5" x2="1812.1" y2="1019.5" stroke="#000" stroke-width="4.9"/>
<text x="1789.7" y="1037.1" font-size="50" text-anchor="end" fill="#000">0.50</text>
<line x1="1799.4" y1="683.6" x2="1812.1" y2="683.6" stroke="#000" stroke-width="4.9"/>
<text x="1789.7" y="701.2" font-size="50" text-anchor="end" fill="#000">0.75</text>
<line x1="1799.4" y1="347.6" x2="1812.1" y2="347.6" stroke="#000" stroke-width="4.9"/>
<text x="1789.7" y="365.2" font-size="50" text-anchor="end" fill="#000">1.00</text>
<line x1="1873.6" y1="1758.6" x2="1873.6" y2="1771.3" stroke="#000" stroke-width="4.9"/>
<text x="1873.6" y="1817.2" font-size="50" text-anchor="middle" fill="#000">0</text>
<line x1="2080.2" y1="1758.6" x2="2080.2" y2="1771.3" stroke="#000" stroke-width="4.9"/>
<text x="2080.2" y="1817.2" font-size="50" text-anchor="middle" fill="#000">20</text>
<line x1="2286.8" y1="1758.6" x2="2286.8" y2="1771.3" stroke="#000" stroke-width="4.9"/>
<text x="2286.8" y="1817.2" font-size="50" text-anchor="middle" fill="#000">40</text>
<line x1="2493.4" y1="1758.6" x2="2493.4" y2="1771.3" stroke="#000" stroke-width="4.9"/>
<text x="2493.4" y="1817.2" font-size="50" text-anchor="middle" fill="#000">60</text>
<line x1="2700.0" y1="1758.6" x2="2700.0" y2="1771.3" stroke="#000" stroke-width="4.9"/>
<text x="2700.0" y="1817.2" font-size="50" text-anchor="middle" fill="#000">80</text>
<line x1="2906.6" y1="1758.6" x2="2906.6" y2="1771.3" stroke="#000" stroke-width="4.9"/>
<text x="2906.6" y="1817.2" font-size="50" text-anchor="middle" fill="#000">100</text>
<line x1="3113.2" y1="1758.6" x2="3113.2" y2="1771.3" stroke="#000" stroke-width="4.9"/>
<text x="3113.2" y="1817.2" font-size="50" text-anchor="middle" fill="#000">120</text>
<text x="2493.4" y="1883.0" font-size="58.33" text-anchor="middle" fill="#000">Months after diagnosis</text>
<text transform="translate(1667.1 1020.3) rotate(-90)" font-size="58.1" text-anchor="middle">Survival probability</text>
<text x="3411.8" y="70.2" font-size="62.5" text-anchor="start" fill="#000">Macrophages_M2_CIBERSORT-in-survival</text>
<text x="3713.8" y="183.9" font-size="41.67" text-anchor="start" fill="#000">Strata</text>
<line x1="3856.2" y1="169.3" x2="3913.8" y2="169.3" stroke="#374E55" stroke-width="3.56"/>
<use href="#cm" x="3885.0" y="169.3" stroke="#374E55"/>
<text x="3946.3" y="183.9" font-size="41.67" text-anchor="start" fill="#000">High</text>
<line x1="4063.7" y1="169.3" x2="4121.3" y2="169.3" stroke="#DF8F44" stroke-width="3.56"/>
<use href="#cm" x="4092.5" y="169.3" stroke="#DF8F44"/>
<text x="4153.2" y="183.9" font-size="41.67" text-anchor="start" fill="#000">Low</text>
<line x1="4261.2" y1="169.3" x2="4318.8" y2="169.3" stroke="#00A1D5" stroke-width="3.56"/>
<use href="#cm" x="4290.0" y="169.3" stroke="#00A1D5"/>
<text x="4351.9" y="183.9" font-size="41.67" text-anchor="start" fill="#000">Middle</text>
<path d="M3473.6 341.9 L3476.0 341.9 L3476.0 349.8 L3477.0 349.8 L3477.0 358.6 L3478.0 358.6 L3478.0 367.5 L3479.0 367.5 L3479.0 376.3 L3483.6 376.3 L3483.6 385.2 L3484.2 385.2 L3484.2 394.2 L3489.0 394.2 L3489.0 403.5 L3496.0 403.5 L3496.0 412.5 L3500.8 412.5 L3500.8 421.6 L3501.2 421.6 L3501.2 431.0 L3504.0 431.0 L3504.0 441.0 L3504.8 441.0 L3504.8 451.0 L3522.0 451.0 L3522.0 460.0 L3530.0 460.0 L3530.0 469.4 L3540.0 469.4 L3540.0 478.1 L3545.6 478.1 L3545.6 487.5 L3545.7 487.5 L3545.7 497.0 L3553.5 497.0 L3553.5 506.5 L3553.8 506.5 L3553.8 515.6 L3558.5 515.6 L3558.5 525.0 L3563.5 525.0 L3563.5 534.3 L3563.8 534.3 L3563.8 543.5 L3567.3 543.5 L3567.3 553.0 L3571.0 553.0 L3571.0 562.0 L3576.5 562.0 L3576.5 571.5 L3577.5 571.5 L3577.5 581.0 L3579.0 581.0 L3579.0 590.4 L3589.0 590.4 L3589.0 599.4 L3594.0 599.4 L3594.0 608.9 L3595.5 608.9 L3595.5 618.4 L3597.5 618.4 L3597.5 628.4 L3599.5 628.4 L3599.5 638.5 L3601.0 638.5 L3601.0 648.8 L3604.5 648.8 L3604.5 658.4 L3616.0 658.4 L3616.0 668.8 L3618.0 668.8 L3618.0 679.3 L3619.5 679.3 L3619.5 690.0 L3620.5 690.0 L3620.5 700.6 L3626.0 700.6 L3626.0 711.6 L3637.5 711.6 L3637.5 722.0 L3655.0 722.0 L3655.0 733.5 L3662.5 733.5 L3662.5 745.5 L3669.0 745.5 L3669.0 757.5 L3674.0 757.5 L3674.0 769.5 L3681.0 769.5 L3681.0 782.8 L3685.0 782.8 L3685.0 795.0 L3687.0 795.0 L3687.0 807.5 L3694.0 807.5 L3694.0 821.8 L3708.0 821.8 L3708.0 835.5 L3712.0 835.5 L3712.0 849.2 L3718.0 849.2 L3718.0 864.2 L3737.0 864.2 L3737.0 880.0 L3738.5 880.0 L3738.5 896.0 L3740.0 896.0 L3740.0 912.5 L3741.0 912.5 L3741.0 929.5 L3757.5 929.5 L3757.5 946.5 L3761.8 946.5 L3761.8 964.0 L3762.2 964.0 L3762.2 981.5 L3766.2 981.5 L3766.2 999.0 L3783.8 999.0 L3783.8 1016.8 L3865.0 1016.8 L3865.0 1036.2 L3891.2 1036.2 L3891.2 1055.2 L3954.7 1055.2 L3954.7 1077.3 L3964.1 1077.3 L3964.1 1098.2 L4032.7 1098.2 L4032.7 1146.4 L4057.5 1146.4 L4057.5 1197.1 L4202.2 1197.1 L4202.2 1235.3 L4207.6 1235.3 L4207.6 1310.9 L4345.8 1310.9 L4345.8 1363.6 L4549.5 1363.6 L4549.5 1417.5 L4670.3 1417.5" fill="none" stroke="#374E55" stroke-width="3.56" stroke-linejoin="round"/>
<path d="M3473.6 341.9 L3476.0 341.9 L3476.0 349.8 L3478.0 349.8 L3478.0 358.6 L3480.0 358.6 L3480.0 367.5 L3486.0 367.5 L3486.0 376.3 L3492.0 376.3 L3492.0 385.3 L3493.5 385.3 L3493.5 394.3 L3497.5 394.3 L3497.5 403.3 L3504.5 403.3 L3504.5 413.5 L3506.0 413.5 L3506.0 422.0 L3506.5 422.0 L3506.5 431.0 L3514.2 431.0 L3514.2 441.0 L3527.0 441.0 L3527.0 451.0 L3540.0 451.0 L3540.0 460.5 L3550.0 460.5 L3550.0 470.0 L3557.0 470.0 L3557.0 479.4 L3566.0 479.4 L3566.0 488.8 L3579.0 488.8 L3579.0 498.0 L3581.0 498.0 L3581.0 508.0 L3600.0 508.0 L3600.0 518.3 L3610.0 518.3 L3610.0 528.8 L3614.0 528.8 L3614.0 540.0 L3617.0 540.0 L3617.0 550.6 L3618.5 550.6 L3618.5 560.6 L3622.0 560.6 L3622.0 571.2 L3658.0 571.2 L3658.0 583.5 L3664.5 583.5 L3664.5 596.2 L3667.0 596.2 L3667.0 608.5 L3676.0 608.5 L3676.0 622.0 L3679.0 622.0 L3679.0 635.4 L3692.5 635.4 L3692.5 649.4 L3694.5 649.4 L3694.5 663.5 L3697.0 663.5 L3697.0 677.5 L3734.0 677.5 L3734.0 695.0 L3748.0 695.0 L3748.0 713.0 L3818.8 713.0 L3818.8 732.5 L3872.5 732.5 L3872.5 756.2 L3911.2 756.2 L3911.2 783.0 L3946.2 783.0 L3946.2 813.8 L3987.0 813.8 L3987.0 846.2 L4008.8 846.2 L4008.8 881.8 L4091.2 881.8 L4091.2 920.0 L4595.3 920.0 L4595.3 1248.2 L4738.9 1248.2" fill="none" stroke="#DF8F44" stroke-width="3.56" stroke-linejoin="round"/>
<path d="M3473.6 341.9 L3477.0 341.9 L3477.0 350.5 L3485.0 350.5 L3485.0 359.5 L3489.0 359.5 L3489.0 369.0 L3492.0 369.0 L3492.0 379.5 L3498.0 379.5 L3498.0 388.0 L3506.0 388.0 L3506.0 397.0 L3509.5 397.0 L3509.5 406.0 L3510.5 406.0 L3510.5 415.0 L3511.0 415.0 L3511.0 424.0 L3519.5 424.0 L3519.5 434.5 L3520.0 434.5 L3520.0 445.3 L3530.0 445.3 L3530.0 454.8 L3545.0 454.8 L3545.0 464.5 L3548.0 464.5 L3548.0 474.2 L3572.0 474.2 L3572.0 483.6 L3574.5 483.6 L3574.5 493.5 L3575.5 493.5 L3575.5 503.0 L3577.0 503.0 L3577.0 513.0 L3595.0 513.0 L3595.0 523.5 L3608.0 523.5 L3608.0 534.4 L3618.0 534.4 L3618.0 545.0 L3625.0 545.0 L3625.0 557.5 L3672.0 557.5 L3672.0 569.4 L3689.0 569.4 L3689.0 582.5 L3695.0 582.5 L3695.0 596.6 L3699.5 596.6 L3699.5 609.5 L3719.5 609.5 L3719.5 624.4 L3724.0 624.4 L3724.0 638.5 L3733.0 638.5 L3733.0 652.5 L3757.0 652.5 L3757.0 667.4 L3761.0 667.4 L3761.0 682.5 L3763.0 682.5 L3763.0 697.5 L3810.0 697.5 L3810.0 715.0 L3830.0 715.0 L3830.0 732.5 L3855.0 732.5 L3855.0 751.8 L3864.5 751.8 L3864.5 771.5 L3869.5 771.5 L3869.5 790.0 L3897.0 790.0 L3897.0 809.4 L3945.0 809.4 L3945.0 829.5 L3950.8 829.5 L3950.8 851.2 L4010.0 851.2 L4010.0 875.5 L4032.5 875.5 L4032.5 901.2 L4054.7 901.2 L4054.7 927.3 L4111.2 927.3 L4111.2 986.0 L4202.3 986.0 L4202.3 1021.1 L4319.9 1021.1 L4319.9 1090.7 L4330.4 1090.7 L4330.4 1160.8 L4349.3 1160.8 L4349.3 1243.8 L4549.5 1243.8 L4549.5 1354.6 L4595.3 1354.6 L4595.3 1465.4 L4656.9 1465.4" fill="none" stroke="#00A1D5" stroke-width="3.56" stroke-linejoin="round"/>
<g stroke="#374E55">
<use href="#cm" x="3482.4" y="376.3"/>
<use href="#cm" x="3536.9" y="469.4"/>
<use href="#cm" x="3581.9" y="590.4"/>
<use href="#cm" x="3583.2" y="590.4"/>
<use href="#cm" x="3590.9" y="599.4"/>
<use href="#cm" x="3593.0" y="599.4"/>
<use href="#cm" x="3593.0" y="599.4"/>
<use href="#cm" x="3595.6" y="618.4"/>
<use href="#cm" x="3596.9" y="618.4"/>
<use href="#cm" x="3598.4" y="628.4"/>
<use href="#cm" x="3601.9" y="648.8"/>
<use href="#cm" x="3604.7" y="658.4"/>
<use href="#cm" x="3606.2" y="658.4"/>
<use href="#cm" x="3613.1" y="658.4"/>
<use href="#cm" x="3620.5" y="700.6"/>
<use href="#cm" x="3621.2" y="700.6"/>
<use href="#cm" x="3628.0" y="711.6"/>
<use href="#cm" x="3636.2" y="711.6"/>
<use href="#cm" x="3646.0" y="722.0"/>
<use href="#cm" x="3649.0" y="722.0"/>
<use href="#cm" x="3649.5" y="722.0"/>
<use href="#cm" x="3653.0" y="722.0"/>
<use href="#cm" x="3656.2" y="733.5"/>
<use href="#cm" x="3665.0" y="745.5"/>
<use href="#cm" x="3670.0" y="757.5"/>
<use href="#cm" x="3674.5" y="769.5"/>
<use href="#cm" x="3676.0" y="769.5"/>
<use href="#cm" x="3681.8" y="782.8"/>
<use href="#cm" x="3689.5" y="807.5"/>
<use href="#cm" x="3691.0" y="807.5"/>
<use href="#cm" x="3697.0" y="821.8"/>
<use href="#cm" x="3700.0" y="821.8"/>
<use href="#cm" x="3703.8" y="821.8"/>
<use href="#cm" x="3715.0" y="849.2"/>
<use href="#cm" x="3717.0" y="849.2"/>
<use href="#cm" x="3720.0" y="864.2"/>
<use href="#cm" x="3722.5" y="864.2"/>
<use href="#cm" x="3727.0" y="864.2"/>
<use href="#cm" x="3732.5" y="864.2"/>
<use href="#cm" x="3742.5" y="929.5"/>
<use href="#cm" x="3757.0" y="929.5"/>
<use href="#cm" x="3793.0" y="1016.8"/>
<use href="#cm" x="3820.8" y="1016.8"/>
<use href="#cm" x="3848.8" y="1016.8"/>
<use href="#cm" x="3900.0" y="1055.2"/>
<use href="#cm" x="3937.8" y="1055.2"/>
<use href="#cm" x="3988.5" y="1098.2"/>
<use href="#cm" x="4000.9" y="1098.2"/>
<use href="#cm" x="4035.2" y="1146.4"/>
<use href="#cm" x="4062.5" y="1197.1"/>
<use href="#cm" x="4085.4" y="1197.1"/>
<use href="#cm" x="4119.7" y="1197.1"/>
<use href="#cm" x="4167.4" y="1197.1"/>
<use href="#cm" x="4196.7" y="1197.1"/>
<use href="#cm" x="4232.0" y="1310.9"/>
<use href="#cm" x="4308.5" y="1310.9"/>
<use href="#cm" x="4613.1" y="1417.5"/>
<use href="#cm" x="4656.9" y="1417.5"/>
<use href="#cm" x="4670.3" y="1417.5"/>
</g>
<g stroke="#DF8F44">
<use href="#cm" x="3480.9" y="367.5"/>
<use href="#cm" x="3488.8" y="376.3"/>
<use href="#cm" x="3505.6" y="413.5"/>
<use href="#cm" x="3521.9" y="441.0"/>
<use href="#cm" x="3531.9" y="451.0"/>
<use href="#cm" x="3536.2" y="451.0"/>
<use href="#cm" x="3559.4" y="479.4"/>
<use href="#cm" x="3561.0" y="479.4"/>
<use href="#cm" x="3563.0" y="479.4"/>
<use href="#cm" x="3586.2" y="508.0"/>
<use href="#cm" x="3588.5" y="508.0"/>
<use href="#cm" x="3594.6" y="508.0"/>
<use href="#cm" x="3598.6" y="508.0"/>
<use href="#cm" x="3607.3" y="518.3"/>
<use href="#cm" x="3613.2" y="528.8"/>
<use href="#cm" x="3615.0" y="540.0"/>
<use href="#cm" x="3620.5" y="560.6"/>
<use href="#cm" x="3625.5" y="571.2"/>
<use href="#cm" x="3629.2" y="571.2"/>
<use href="#cm" x="3631.0" y="571.2"/>
<use href="#cm" x="3633.0" y="571.2"/>
<use href="#cm" x="3635.0" y="571.2"/>
<use href="#cm" x="3637.0" y="571.2"/>
<use href="#cm" x="3639.0" y="571.2"/>
<use href="#cm" x="3641.0" y="571.2"/>
<use href="#cm" x="3646.9" y="571.2"/>
<use href="#cm" x="3650.0" y="571.2"/>
<use href="#cm" x="3653.0" y="571.2"/>
<use href="#cm" x="3664.4" y="583.5"/>
<use href="#cm" x="3665.8" y="596.2"/>
<use href="#cm" x="3668.2" y="608.5"/>
<use href="#cm" x="3671.0" y="608.5"/>
<use href="#cm" x="3673.2" y="608.5"/>
<use href="#cm" x="3681.0" y="635.4"/>
<use href="#cm" x="3691.0" y="635.4"/>
<use href="#cm" x="3693.5" y="649.4"/>
<use href="#cm" x="3695.2" y="663.5"/>
<use href="#cm" x="3700.0" y="677.5"/>
<use href="#cm" x="3703.0" y="677.5"/>
<use href="#cm" x="3706.0" y="677.5"/>
<use href="#cm" x="3706.0" y="677.5"/>
<use href="#cm" x="3709.0" y="677.5"/>
<use href="#cm" x="3712.0" y="677.5"/>
<use href="#cm" x="3715.0" y="677.5"/>
<use href="#cm" x="3718.8" y="677.5"/>
<use href="#cm" x="3722.3" y="677.5"/>
<use href="#cm" x="3723.8" y="677.5"/>
<use href="#cm" x="3730.5" y="677.5"/>
<use href="#cm" x="3731.2" y="677.5"/>
<use href="#cm" x="3731.4" y="677.5"/>
<use href="#cm" x="3743.2" y="695.0"/>
<use href="#cm" x="3743.8" y="695.0"/>
<use href="#cm" x="3750.6" y="713.0"/>
<use href="#cm" x="3752.9" y="713.0"/>
<use href="#cm" x="3753.8" y="713.0"/>
<use href="#cm" x="3756.7" y="713.0"/>
<use href="#cm" x="3767.0" y="713.0"/>
<use href="#cm" x="3782.5" y="713.0"/>
<use href="#cm" x="3786.0" y="713.0"/>
<use href="#cm" x="3790.0" y="713.0"/>
<use href="#cm" x="3799.5" y="713.0"/>
<use href="#cm" x="3827.5" y="732.5"/>
<use href="#cm" x="3840.0" y="732.5"/>
<use href="#cm" x="3851.2" y="732.5"/>
<use href="#cm" x="3867.5" y="732.5"/>
<use href="#cm" x="3875.5" y="756.2"/>
<use href="#cm" x="3897.0" y="756.2"/>
<use href="#cm" x="3901.0" y="756.2"/>
<use href="#cm" x="3920.5" y="783.0"/>
<use href="#cm" x="3935.0" y="783.0"/>
<use href="#cm" x="3939.0" y="783.0"/>
<use href="#cm" x="3943.0" y="783.0"/>
<use href="#cm" x="3996.2" y="846.2"/>
<use href="#cm" x="4000.0" y="846.2"/>
<use href="#cm" x="4012.5" y="881.8"/>
<use href="#cm" x="4037.0" y="881.8"/>
<use href="#cm" x="4094.8" y="920.0"/>
<use href="#cm" x="4112.2" y="920.0"/>
<use href="#cm" x="4128.1" y="920.0"/>
<use href="#cm" x="4141.0" y="920.0"/>
<use href="#cm" x="4158.9" y="920.0"/>
<use href="#cm" x="4167.9" y="920.0"/>
<use href="#cm" x="4226.0" y="920.0"/>
<use href="#cm" x="4265.3" y="920.0"/>
<use href="#cm" x="4270.2" y="920.0"/>
<use href="#cm" x="4299.0" y="920.0"/>
<use href="#cm" x="4303.5" y="920.0"/>
<use href="#cm" x="4319.0" y="920.0"/>
<use href="#cm" x="4413.4" y="920.0"/>
<use href="#cm" x="4418.3" y="920.0"/>
<use href="#cm" x="4738.9" y="1248.2"/>
</g>
<g stroke="#00A1D5">
<use href="#cm" x="3474.4" y="341.9"/>
<use href="#cm" x="3475.4" y="341.9"/>
<use href="#cm" x="3476.4" y="341.9"/>
<use href="#cm" x="3479.0" y="350.5"/>
<use href="#cm" x="3480.5" y="350.5"/>
<use href="#cm" x="3482.5" y="350.5"/>
<use href="#cm" x="3521.2" y="445.3"/>
<use href="#cm" x="3536.2" y="454.8"/>
<use href="#cm" x="3549.0" y="474.2"/>
<use href="#cm" x="3551.0" y="474.2"/>
<use href="#cm" x="3552.5" y="474.2"/>
<use href="#cm" x="3573.8" y="483.6"/>
<use href="#cm" x="3578.1" y="513.0"/>
<use href="#cm" x="3586.2" y="513.0"/>
<use href="#cm" x="3586.8" y="513.0"/>
<use href="#cm" x="3591.0" y="513.0"/>
<use href="#cm" x="3592.5" y="513.0"/>
<use href="#cm" x="3596.0" y="523.5"/>
<use href="#cm" x="3600.0" y="523.5"/>
<use href="#cm" x="3604.0" y="523.5"/>
<use href="#cm" x="3604.8" y="523.5"/>
<use href="#cm" x="3607.7" y="523.5"/>
<use href="#cm" x="3608.6" y="534.4"/>
<use href="#cm" x="3610.0" y="534.4"/>
<use href="#cm" x="3614.0" y="534.4"/>
<use href="#cm" x="3616.4" y="534.4"/>
<use href="#cm" x="3618.2" y="545.0"/>
<use href="#cm" x="3619.9" y="545.0"/>
<use href="#cm" x="3620.7" y="545.0"/>
<use href="#cm" x="3622.0" y="545.0"/>
<use href="#cm" x="3638.1" y="557.5"/>
<use href="#cm" x="3658.8" y="557.5"/>
<use href="#cm" x="3670.0" y="557.5"/>
<use href="#cm" x="3674.0" y="569.4"/>
<use href="#cm" x="3677.0" y="569.4"/>
<use href="#cm" x="3680.0" y="569.4"/>
<use href="#cm" x="3682.1" y="569.4"/>
<use href="#cm" x="3683.0" y="569.4"/>
<use href="#cm" x="3683.9" y="569.4"/>
<use href="#cm" x="3684.4" y="569.4"/>
<use href="#cm" x="3686.0" y="569.4"/>
<use href="#cm" x="3689.5" y="582.5"/>
<use href="#cm" x="3691.4" y="582.5"/>
<use href="#cm" x="3692.0" y="582.5"/>
<use href="#cm" x="3698.8" y="596.6"/>
<use href="#cm" x="3721.2" y="624.4"/>
<use href="#cm" x="3725.0" y="638.5"/>
<use href="#cm" x="3726.2" y="638.5"/>
<use href="#cm" x="3736.9" y="652.5"/>
<use href="#cm" x="3741.2" y="652.5"/>
<use href="#cm" x="3748.8" y="652.5"/>
<use href="#cm" x="3758.8" y="667.4"/>
<use href="#cm" x="3765.0" y="697.5"/>
<use href="#cm" x="3767.0" y="697.5"/>
<use href="#cm" x="3769.0" y="697.5"/>
<use href="#cm" x="3771.0" y="697.5"/>
<use href="#cm" x="3775.6" y="697.5"/>
<use href="#cm" x="3783.8" y="697.5"/>
<use href="#cm" x="3792.0" y="697.5"/>
<use href="#cm" x="3813.8" y="715.0"/>
<use href="#cm" x="3835.0" y="732.5"/>
<use href="#cm" x="3847.0" y="732.5"/>
<use href="#cm" x="3857.5" y="751.8"/>
<use href="#cm" x="3894.2" y="790.0"/>
<use href="#cm" x="3898.0" y="809.4"/>
<use href="#cm" x="3943.0" y="809.4"/>
<use href="#cm" x="3963.8" y="851.2"/>
<use href="#cm" x="3973.0" y="851.2"/>
<use href="#cm" x="3988.8" y="851.2"/>
<use href="#cm" x="4007.5" y="851.2"/>
<use href="#cm" x="4012.0" y="875.5"/>
<use href="#cm" x="4030.8" y="875.5"/>
<use href="#cm" x="4065.0" y="927.3"/>
<use href="#cm" x="4070.0" y="927.3"/>
<use href="#cm" x="4100.3" y="927.3"/>
<use href="#cm" x="4152.0" y="986.0"/>
<use href="#cm" x="4167.4" y="986.0"/>
<use href="#cm" x="4172.3" y="986.0"/>
<use href="#cm" x="4246.9" y="1021.1"/>
<use href="#cm" x="4266.3" y="1021.1"/>
<use href="#cm" x="4273.7" y="1021.1"/>
<use href="#cm" x="4303.5" y="1021.1"/>
<use href="#cm" x="4307.0" y="1021.1"/>
<use href="#cm" x="4310.0" y="1021.1"/>
<use href="#cm" x="4315.5" y="1021.1"/>
<use href="#cm" x="4338.3" y="1160.8"/>
<use href="#cm" x="4420.8" y="1243.8"/>
<use href="#cm" x="4656.9" y="1465.4"/>
</g>
<line x1="3473.6" y1="959.6" x2="4595.3" y2="959.6" stroke="#000" stroke-width="4.45" stroke-dasharray="17.8 17.8"/>
<rect x="3473.6" y="1405.7" width="165.5" height="56.8" fill="#CCCCCC" stroke="#fff" stroke-width="2.8"/>
<rect x="3639.1" y="1405.7" width="148.5" height="56.8" fill="#CCCCCC" stroke="#fff" stroke-width="2.8"/>
<rect x="3787.6" y="1405.7" width="149.0" height="56.8" fill="#CCCCCC" stroke="#fff" stroke-width="2.8"/>
<rect x="3473.6" y="1462.5" width="165.5" height="57.0" fill="#CCCCCC" stroke="#fff" stroke-width="2.8"/>
<rect x="3639.1" y="1462.5" width="148.5" height="57.0" fill="#F2F2F2" stroke="#fff" stroke-width="2.8"/>
<rect x="3787.6" y="1462.5" width="149.0" height="57.0" fill="#F2F2F2" stroke="#fff" stroke-width="2.8"/>
<rect x="3473.6" y="1519.5" width="165.5" height="56.9" fill="#CCCCCC" stroke="#fff" stroke-width="2.8"/>
<rect x="3639.1" y="1519.5" width="148.5" height="56.9" fill="#E5E5E5" stroke="#fff" stroke-width="2.8"/>
<rect x="3787.6" y="1519.5" width="149.0" height="56.9" fill="#E5E5E5" stroke="#fff" stroke-width="2.8"/>
<text x="3713.3" y="1447.7" font-size="37.7" text-anchor="middle" fill="#000" font-weight="bold">High</text>
<text x="3862.1" y="1447.7" font-size="37.7" text-anchor="middle" fill="#000" font-weight="bold">Low</text>
<text x="3622.3" y="1505.4" font-size="37.7" text-anchor="end" fill="#000" font-style="italic">Low</text>
<text x="3622.3" y="1562.3" font-size="37.7" text-anchor="end" fill="#000" font-style="italic">Middle</text>
<text x="3713.3" y="1505.4" font-size="37.7" text-anchor="middle" fill="#000">0.001</text>
<text x="3862.1" y="1505.4" font-size="37.7" text-anchor="middle" fill="#000">-</text>
<text x="3713.3" y="1562.3" font-size="37.7" text-anchor="middle" fill="#000">0.003</text>
<text x="3862.1" y="1562.3" font-size="37.7" text-anchor="middle" fill="#000">0.641</text>
<line x1="3412.1" y1="279.8" x2="3412.1" y2="1640.7" stroke="#000" stroke-width="4.9"/>
<line x1="3409.7" y1="1638.2" x2="4774.8" y2="1638.2" stroke="#000" stroke-width="4.9"/>
<line x1="3399.4" y1="1577.3" x2="3412.1" y2="1577.3" stroke="#000" stroke-width="4.9"/>
<text x="3389.7" y="1594.9" font-size="50" text-anchor="end" fill="#000">0.00</text>
<line x1="3399.4" y1="1268.4" x2="3412.1" y2="1268.4" stroke="#000" stroke-width="4.9"/>
<text x="3389.7" y="1286.0" font-size="50" text-anchor="end" fill="#000">0.25</text>
<line x1="3399.4" y1="959.6" x2="3412.1" y2="959.6" stroke="#000" stroke-width="4.9"/>
<text x="3389.7" y="977.2" font-size="50" text-anchor="end" fill="#000">0.50</text>
<line x1="3399.4" y1="650.7" x2="3412.1" y2="650.7" stroke="#000" stroke-width="4.9"/>
<text x="3389.7" y="668.3" font-size="50" text-anchor="end" fill="#000">0.75</text>
<line x1="3399.4" y1="341.9" x2="3412.1" y2="341.9" stroke="#000" stroke-width="4.9"/>
<text x="3389.7" y="359.5" font-size="50" text-anchor="end" fill="#000">1.00</text>
<line x1="3473.6" y1="1638.2" x2="3473.6" y2="1650.9" stroke="#000" stroke-width="4.9"/>
<text x="3473.6" y="1696.8" font-size="50" text-anchor="middle" fill="#000">0</text>
<line x1="3680.2" y1="1638.2" x2="3680.2" y2="1650.9" stroke="#000" stroke-width="4.9"/>
<text x="3680.2" y="1696.8" font-size="50" text-anchor="middle" fill="#000">20</text>
<line x1="3886.8" y1="1638.2" x2="3886.8" y2="1650.9" stroke="#000" stroke-width="4.9"/>
<text x="3886.8" y="1696.8" font-size="50" text-anchor="middle" fill="#000">40</text>
<line x1="4093.4" y1="1638.2" x2="4093.4" y2="1650.9" stroke="#000" stroke-width="4.9"/>
<text x="4093.4" y="1696.8" font-size="50" text-anchor="middle" fill="#000">60</text>
<line x1="4300.0" y1="1638.2" x2="4300.0" y2="1650.9" stroke="#000" stroke-width="4.9"/>
<text x="4300.0" y="1696.8" font-size="50" text-anchor="middle" fill="#000">80</text>
<line x1="4506.6" y1="1638.2" x2="4506.6" y2="1650.9" stroke="#000" stroke-width="4.9"/>
<text x="4506.6" y="1696.8" font-size="50" text-anchor="middle" fill="#000">100</text>
<line x1="4713.2" y1="1638.2" x2="4713.2" y2="1650.9" stroke="#000" stroke-width="4.9"/>
<text x="4713.2" y="1696.8" font-size="50" text-anchor="middle" fill="#000">120</text>
<text x="4093.4" y="1762.6" font-size="58.33" text-anchor="middle" fill="#000">Months after diagnosis</text>
<text transform="translate(3267.1 960.1) rotate(-90)" font-size="58.1" text-anchor="middle">Survival probability</text>
<text x="3475.0" y="913.6" font-size="45.8" text-anchor="start" fill="#000" font-style="italic">Overall P &lt; 0.001</text>
<text x="353.4" y="1993.0" font-size="66.67" text-anchor="start" fill="#000">Number at risk</text>
<line x1="340.7" y1="2088.7" x2="353.4" y2="2088.7" stroke="#333" stroke-width="4.9"/>
<text x="343.2" y="2101.3" font-size="50" text-anchor="end" fill="#374E55" word-spacing="-10">Low score</text>
<text x="408.7" y="2108.1" font-size="53.3" text-anchor="middle" fill="#000">212</text>
<text x="593.9" y="2108.1" font-size="53.3" text-anchor="middle" fill="#000">116</text>
<text x="779.1" y="2108.1" font-size="53.3" text-anchor="middle" fill="#000">57</text>
<text x="964.3" y="2108.1" font-size="53.3" text-anchor="middle" fill="#000">30</text>
<text x="1149.5" y="2108.1" font-size="53.3" text-anchor="middle" fill="#000">14</text>
<text x="1334.7" y="2108.1" font-size="53.3" text-anchor="middle" fill="#000">4</text>
<text x="1519.9" y="2108.1" font-size="53.3" text-anchor="middle" fill="#000">1</text>
<line x1="340.7" y1="2182.5" x2="353.4" y2="2182.5" stroke="#333" stroke-width="4.9"/>
<text x="343.2" y="2195.1" font-size="50" text-anchor="end" fill="#DF8F44" word-spacing="-13.1">High score</text>
<text x="408.7" y="2201.9" font-size="53.3" text-anchor="middle" fill="#000">206</text>
<text x="593.9" y="2201.9" font-size="53.3" text-anchor="middle" fill="#000">100</text>
<text x="779.1" y="2201.9" font-size="53.3" text-anchor="middle" fill="#000">45</text>
<text x="964.3" y="2201.9" font-size="53.3" text-anchor="middle" fill="#000">23</text>
<text x="1149.5" y="2201.9" font-size="53.3" text-anchor="middle" fill="#000">10</text>
<text x="1334.7" y="2201.9" font-size="53.3" text-anchor="middle" fill="#000">5</text>
<text x="1519.9" y="2201.9" font-size="53.3" text-anchor="middle" fill="#000">0</text>
<line x1="353.4" y1="2032.8" x2="353.4" y2="2240.8" stroke="#000" stroke-width="4.9"/>
<line x1="350.9" y1="2238.4" x2="1574.6" y2="2238.4" stroke="#000" stroke-width="4.9"/>
<line x1="408.7" y1="2238.4" x2="408.7" y2="2251.1" stroke="#333" stroke-width="4.9"/>
<text x="408.7" y="2296.8" font-size="50" text-anchor="middle" fill="#000">0</text>
<line x1="593.9" y1="2238.4" x2="593.9" y2="2251.1" stroke="#333" stroke-width="4.9"/>
<text x="593.9" y="2296.8" font-size="50" text-anchor="middle" fill="#000">20</text>
<line x1="779.1" y1="2238.4" x2="779.1" y2="2251.1" stroke="#333" stroke-width="4.9"/>
<text x="779.1" y="2296.8" font-size="50" text-anchor="middle" fill="#000">40</text>
<line x1="964.3" y1="2238.4" x2="964.3" y2="2251.1" stroke="#333" stroke-width="4.9"/>
<text x="964.3" y="2296.8" font-size="50" text-anchor="middle" fill="#000">60</text>
<line x1="1149.5" y1="2238.4" x2="1149.5" y2="2251.1" stroke="#333" stroke-width="4.9"/>
<text x="1149.5" y="2296.8" font-size="50" text-anchor="middle" fill="#000">80</text>
<line x1="1334.7" y1="2238.4" x2="1334.7" y2="2251.1" stroke="#333" stroke-width="4.9"/>
<text x="1334.7" y="2296.8" font-size="50" text-anchor="middle" fill="#000">100</text>
<line x1="1519.9" y1="2238.4" x2="1519.9" y2="2251.1" stroke="#333" stroke-width="4.9"/>
<text x="1519.9" y="2296.8" font-size="50" text-anchor="middle" fill="#000">120</text>
<text x="964.0" y="2362.7" font-size="58.33" text-anchor="middle" fill="#000">Months after diagnosis</text>
<text transform="translate(68.3 2135.6) rotate(-90)" font-size="58.33" text-anchor="middle">Strata</text>
<text x="1953.4" y="1993.0" font-size="66.67" text-anchor="start" fill="#000">Number at risk</text>
<line x1="1940.7" y1="2088.7" x2="1953.4" y2="2088.7" stroke="#333" stroke-width="4.9"/>
<text x="1943.2" y="2101.3" font-size="50" text-anchor="end" fill="#374E55" word-spacing="-10">Low score</text>
<text x="2008.7" y="2108.1" font-size="53.3" text-anchor="middle" fill="#000">221</text>
<text x="2193.9" y="2108.1" font-size="53.3" text-anchor="middle" fill="#000">119</text>
<text x="2379.1" y="2108.1" font-size="53.3" text-anchor="middle" fill="#000">58</text>
<text x="2564.3" y="2108.1" font-size="53.3" text-anchor="middle" fill="#000">31</text>
<text x="2749.5" y="2108.1" font-size="53.3" text-anchor="middle" fill="#000">15</text>
<text x="2934.7" y="2108.1" font-size="53.3" text-anchor="middle" fill="#000">4</text>
<text x="3119.9" y="2108.1" font-size="53.3" text-anchor="middle" fill="#000">1</text>
<line x1="1940.7" y1="2182.5" x2="1953.4" y2="2182.5" stroke="#333" stroke-width="4.9"/>
<text x="1943.2" y="2195.1" font-size="50" text-anchor="end" fill="#DF8F44" word-spacing="-13.1">High score</text>
<text x="2008.7" y="2201.9" font-size="53.3" text-anchor="middle" fill="#000">197</text>
<text x="2193.9" y="2201.9" font-size="53.3" text-anchor="middle" fill="#000">97</text>
<text x="2379.1" y="2201.9" font-size="53.3" text-anchor="middle" fill="#000">44</text>
<text x="2564.3" y="2201.9" font-size="53.3" text-anchor="middle" fill="#000">22</text>
<text x="2749.5" y="2201.9" font-size="53.3" text-anchor="middle" fill="#000">9</text>
<text x="2934.7" y="2201.9" font-size="53.3" text-anchor="middle" fill="#000">5</text>
<text x="3119.9" y="2201.9" font-size="53.3" text-anchor="middle" fill="#000">0</text>
<line x1="1953.4" y1="2032.8" x2="1953.4" y2="2240.8" stroke="#000" stroke-width="4.9"/>
<line x1="1951.0" y1="2238.4" x2="3174.6" y2="2238.4" stroke="#000" stroke-width="4.9"/>
<line x1="2008.7" y1="2238.4" x2="2008.7" y2="2251.1" stroke="#333" stroke-width="4.9"/>
<text x="2008.7" y="2296.8" font-size="50" text-anchor="middle" fill="#000">0</text>
<line x1="2193.9" y1="2238.4" x2="2193.9" y2="2251.1" stroke="#333" stroke-width="4.9"/>
<text x="2193.9" y="2296.8" font-size="50" text-anchor="middle" fill="#000">20</text>
<line x1="2379.1" y1="2238.4" x2="2379.1" y2="2251.1" stroke="#333" stroke-width="4.9"/>
<text x="2379.1" y="2296.8" font-size="50" text-anchor="middle" fill="#000">40</text>
<line x1="2564.3" y1="2238.4" x2="2564.3" y2="2251.1" stroke="#333" stroke-width="4.9"/>
<text x="2564.3" y="2296.8" font-size="50" text-anchor="middle" fill="#000">60</text>
<line x1="2749.5" y1="2238.4" x2="2749.5" y2="2251.1" stroke="#333" stroke-width="4.9"/>
<text x="2749.5" y="2296.8" font-size="50" text-anchor="middle" fill="#000">80</text>
<line x1="2934.7" y1="2238.4" x2="2934.7" y2="2251.1" stroke="#333" stroke-width="4.9"/>
<text x="2934.7" y="2296.8" font-size="50" text-anchor="middle" fill="#000">100</text>
<line x1="3119.9" y1="2238.4" x2="3119.9" y2="2251.1" stroke="#333" stroke-width="4.9"/>
<text x="3119.9" y="2296.8" font-size="50" text-anchor="middle" fill="#000">120</text>
<text x="2564.0" y="2362.7" font-size="58.33" text-anchor="middle" fill="#000">Months after diagnosis</text>
<text transform="translate(1668.3 2135.6) rotate(-90)" font-size="58.33" text-anchor="middle">Strata</text>
<text x="3462.1" y="1874.2" font-size="66.67" text-anchor="start" fill="#000">Number at risk</text>
<line x1="3449.4" y1="1973.8" x2="3462.1" y2="1973.8" stroke="#333" stroke-width="4.9"/>
<text x="3451.9" y="1986.4" font-size="50" text-anchor="end" fill="#374E55">High</text>
<text x="3521.8" y="1993.2" font-size="53.3" text-anchor="middle" fill="#000">140</text>
<text x="3720.9" y="1993.2" font-size="53.3" text-anchor="middle" fill="#000">65</text>
<text x="3919.9" y="1993.2" font-size="53.3" text-anchor="middle" fill="#000">28</text>
<text x="4119.0" y="1993.2" font-size="53.3" text-anchor="middle" fill="#000">13</text>
<text x="4318.0" y="1993.2" font-size="53.3" text-anchor="middle" fill="#000">6</text>
<text x="4517.1" y="1993.2" font-size="53.3" text-anchor="middle" fill="#000">4</text>
<text x="4716.2" y="1993.2" font-size="53.3" text-anchor="middle" fill="#000">0</text>
<line x1="3449.4" y1="2075.7" x2="3462.1" y2="2075.7" stroke="#333" stroke-width="4.9"/>
<text x="3447.2" y="2088.3" font-size="50" text-anchor="end" fill="#DF8F44">Low</text>
<text x="3521.8" y="2095.1" font-size="53.3" text-anchor="middle" fill="#000">140</text>
<text x="3720.9" y="2095.1" font-size="53.3" text-anchor="middle" fill="#000">71</text>
<text x="3919.9" y="2095.1" font-size="53.3" text-anchor="middle" fill="#000">33</text>
<text x="4119.0" y="2095.1" font-size="53.3" text-anchor="middle" fill="#000">17</text>
<text x="4318.0" y="2095.1" font-size="53.3" text-anchor="middle" fill="#000">6</text>
<text x="4517.1" y="2095.1" font-size="53.3" text-anchor="middle" fill="#000">2</text>
<text x="4716.2" y="2095.1" font-size="53.3" text-anchor="middle" fill="#000">1</text>
<line x1="3449.4" y1="2177.5" x2="3462.1" y2="2177.5" stroke="#333" stroke-width="4.9"/>
<text x="3457.9" y="2190.1" font-size="50" text-anchor="end" fill="#00A1D5">Middle</text>
<text x="3521.8" y="2196.9" font-size="53.3" text-anchor="middle" fill="#000">138</text>
<text x="3720.9" y="2196.9" font-size="53.3" text-anchor="middle" fill="#000">80</text>
<text x="3919.9" y="2196.9" font-size="53.3" text-anchor="middle" fill="#000">41</text>
<text x="4119.0" y="2196.9" font-size="53.3" text-anchor="middle" fill="#000">23</text>
<text x="4318.0" y="2196.9" font-size="53.3" text-anchor="middle" fill="#000">12</text>
<text x="4517.1" y="2196.9" font-size="53.3" text-anchor="middle" fill="#000">3</text>
<text x="4716.2" y="2196.9" font-size="53.3" text-anchor="middle" fill="#000">0</text>
<line x1="3462.1" y1="1912.3" x2="3462.1" y2="2240.8" stroke="#000" stroke-width="4.9"/>
<line x1="3459.7" y1="2238.4" x2="4774.6" y2="2238.4" stroke="#000" stroke-width="4.9"/>
<line x1="3521.8" y1="2238.4" x2="3521.8" y2="2251.1" stroke="#333" stroke-width="4.9"/>
<text x="3521.8" y="2296.8" font-size="50" text-anchor="middle" fill="#000">0</text>
<line x1="3720.9" y1="2238.4" x2="3720.9" y2="2251.1" stroke="#333" stroke-width="4.9"/>
<text x="3720.9" y="2296.8" font-size="50" text-anchor="middle" fill="#000">20</text>
<line x1="3919.9" y1="2238.4" x2="3919.9" y2="2251.1" stroke="#333" stroke-width="4.9"/>
<text x="3919.9" y="2296.8" font-size="50" text-anchor="middle" fill="#000">40</text>
<line x1="4119.0" y1="2238.4" x2="4119.0" y2="2251.1" stroke="#333" stroke-width="4.9"/>
<text x="4119.0" y="2296.8" font-size="50" text-anchor="middle" fill="#000">60</text>
<line x1="4318.0" y1="2238.4" x2="4318.0" y2="2251.1" stroke="#333" stroke-width="4.9"/>
<text x="4318.0" y="2296.8" font-size="50" text-anchor="middle" fill="#000">80</text>
<line x1="4517.1" y1="2238.4" x2="4517.1" y2="2251.1" stroke="#333" stroke-width="4.9"/>
<text x="4517.1" y="2296.8" font-size="50" text-anchor="middle" fill="#000">100</text>
<line x1="4716.2" y1="2238.4" x2="4716.2" y2="2251.1" stroke="#333" stroke-width="4.9"/>
<text x="4716.2" y="2296.8" font-size="50" text-anchor="middle" fill="#000">120</text>
<text x="4118.4" y="2362.7" font-size="58.33" text-anchor="middle" fill="#000">Months after diagnosis</text>
<text transform="translate(3268.3 2075.3) rotate(-90)" font-size="58.33" text-anchor="middle">Strata</text>
</svg></body></html>
